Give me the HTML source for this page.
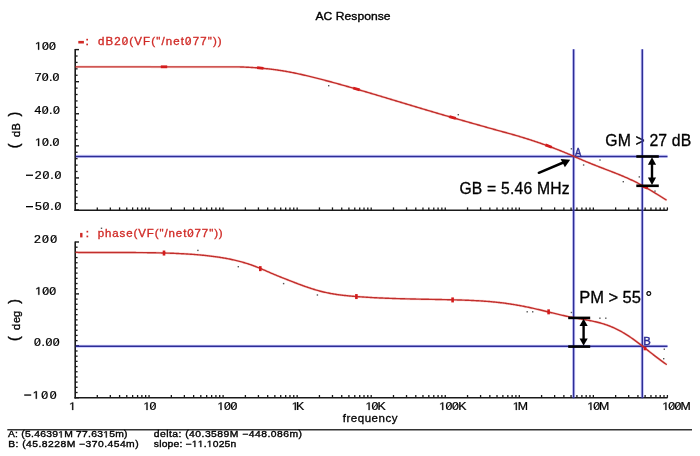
<!DOCTYPE html>
<html><head><meta charset="utf-8"><style>
html,body{margin:0;padding:0;background:#fff;overflow:hidden;}
body{width:700px;height:456px;position:relative;font-family:"Liberation Sans",sans-serif;}
svg{position:absolute;left:0;top:0;display:block;will-change:transform;}
</style></head><body>
<svg width="700" height="456" viewBox="0 0 700 456"><line x1="75.20" y1="49.00" x2="75.20" y2="210.90" stroke="#1a1a1a" stroke-width="1.6" />
<line x1="74.40" y1="210.20" x2="667.50" y2="210.20" stroke="#1a1a1a" stroke-width="1.6" />
<line x1="75.20" y1="49.60" x2="79.00" y2="49.60" stroke="#1a1a1a" stroke-width="1.4" />
<line x1="75.20" y1="81.68" x2="79.00" y2="81.68" stroke="#1a1a1a" stroke-width="1.4" />
<line x1="75.20" y1="113.76" x2="79.00" y2="113.76" stroke="#1a1a1a" stroke-width="1.4" />
<line x1="75.20" y1="145.84" x2="79.00" y2="145.84" stroke="#1a1a1a" stroke-width="1.4" />
<line x1="75.20" y1="177.92" x2="79.00" y2="177.92" stroke="#1a1a1a" stroke-width="1.4" />
<line x1="75.20" y1="209.99" x2="79.00" y2="209.99" stroke="#1a1a1a" stroke-width="1.4" />
<line x1="75.20" y1="56.02" x2="77.60" y2="56.02" stroke="#1a1a1a" stroke-width="1.3" />
<line x1="75.20" y1="62.43" x2="77.60" y2="62.43" stroke="#1a1a1a" stroke-width="1.3" />
<line x1="75.20" y1="68.85" x2="77.60" y2="68.85" stroke="#1a1a1a" stroke-width="1.3" />
<line x1="75.20" y1="75.26" x2="77.60" y2="75.26" stroke="#1a1a1a" stroke-width="1.3" />
<line x1="75.20" y1="88.09" x2="77.60" y2="88.09" stroke="#1a1a1a" stroke-width="1.3" />
<line x1="75.20" y1="94.51" x2="77.60" y2="94.51" stroke="#1a1a1a" stroke-width="1.3" />
<line x1="75.20" y1="100.93" x2="77.60" y2="100.93" stroke="#1a1a1a" stroke-width="1.3" />
<line x1="75.20" y1="107.34" x2="77.60" y2="107.34" stroke="#1a1a1a" stroke-width="1.3" />
<line x1="75.20" y1="120.17" x2="77.60" y2="120.17" stroke="#1a1a1a" stroke-width="1.3" />
<line x1="75.20" y1="126.59" x2="77.60" y2="126.59" stroke="#1a1a1a" stroke-width="1.3" />
<line x1="75.20" y1="133.01" x2="77.60" y2="133.01" stroke="#1a1a1a" stroke-width="1.3" />
<line x1="75.20" y1="139.42" x2="77.60" y2="139.42" stroke="#1a1a1a" stroke-width="1.3" />
<line x1="75.20" y1="152.25" x2="77.60" y2="152.25" stroke="#1a1a1a" stroke-width="1.3" />
<line x1="75.20" y1="158.67" x2="77.60" y2="158.67" stroke="#1a1a1a" stroke-width="1.3" />
<line x1="75.20" y1="165.08" x2="77.60" y2="165.08" stroke="#1a1a1a" stroke-width="1.3" />
<line x1="75.20" y1="171.50" x2="77.60" y2="171.50" stroke="#1a1a1a" stroke-width="1.3" />
<line x1="75.20" y1="184.33" x2="77.60" y2="184.33" stroke="#1a1a1a" stroke-width="1.3" />
<line x1="75.20" y1="190.75" x2="77.60" y2="190.75" stroke="#1a1a1a" stroke-width="1.3" />
<line x1="75.20" y1="197.16" x2="77.60" y2="197.16" stroke="#1a1a1a" stroke-width="1.3" />
<line x1="75.20" y1="203.58" x2="77.60" y2="203.58" stroke="#1a1a1a" stroke-width="1.3" />
<line x1="97.29" y1="210.20" x2="97.29" y2="207.40" stroke="#1a1a1a" stroke-width="1.3" />
<line x1="110.33" y1="210.20" x2="110.33" y2="207.40" stroke="#1a1a1a" stroke-width="1.3" />
<line x1="119.58" y1="210.20" x2="119.58" y2="207.40" stroke="#1a1a1a" stroke-width="1.3" />
<line x1="126.76" y1="210.20" x2="126.76" y2="207.40" stroke="#1a1a1a" stroke-width="1.3" />
<line x1="132.62" y1="210.20" x2="132.62" y2="207.40" stroke="#1a1a1a" stroke-width="1.3" />
<line x1="137.58" y1="210.20" x2="137.58" y2="207.40" stroke="#1a1a1a" stroke-width="1.3" />
<line x1="141.87" y1="210.20" x2="141.87" y2="207.40" stroke="#1a1a1a" stroke-width="1.3" />
<line x1="145.66" y1="210.20" x2="145.66" y2="207.40" stroke="#1a1a1a" stroke-width="1.3" />
<line x1="149.05" y1="210.20" x2="149.05" y2="207.40" stroke="#1a1a1a" stroke-width="1.3" />
<line x1="171.34" y1="210.20" x2="171.34" y2="207.40" stroke="#1a1a1a" stroke-width="1.3" />
<line x1="184.38" y1="210.20" x2="184.38" y2="207.40" stroke="#1a1a1a" stroke-width="1.3" />
<line x1="193.63" y1="210.20" x2="193.63" y2="207.40" stroke="#1a1a1a" stroke-width="1.3" />
<line x1="200.81" y1="210.20" x2="200.81" y2="207.40" stroke="#1a1a1a" stroke-width="1.3" />
<line x1="206.67" y1="210.20" x2="206.67" y2="207.40" stroke="#1a1a1a" stroke-width="1.3" />
<line x1="211.63" y1="210.20" x2="211.63" y2="207.40" stroke="#1a1a1a" stroke-width="1.3" />
<line x1="215.92" y1="210.20" x2="215.92" y2="207.40" stroke="#1a1a1a" stroke-width="1.3" />
<line x1="219.71" y1="210.20" x2="219.71" y2="207.40" stroke="#1a1a1a" stroke-width="1.3" />
<line x1="223.10" y1="210.20" x2="223.10" y2="207.40" stroke="#1a1a1a" stroke-width="1.3" />
<line x1="245.39" y1="210.20" x2="245.39" y2="207.40" stroke="#1a1a1a" stroke-width="1.3" />
<line x1="258.43" y1="210.20" x2="258.43" y2="207.40" stroke="#1a1a1a" stroke-width="1.3" />
<line x1="267.68" y1="210.20" x2="267.68" y2="207.40" stroke="#1a1a1a" stroke-width="1.3" />
<line x1="274.86" y1="210.20" x2="274.86" y2="207.40" stroke="#1a1a1a" stroke-width="1.3" />
<line x1="280.72" y1="210.20" x2="280.72" y2="207.40" stroke="#1a1a1a" stroke-width="1.3" />
<line x1="285.68" y1="210.20" x2="285.68" y2="207.40" stroke="#1a1a1a" stroke-width="1.3" />
<line x1="289.97" y1="210.20" x2="289.97" y2="207.40" stroke="#1a1a1a" stroke-width="1.3" />
<line x1="293.76" y1="210.20" x2="293.76" y2="207.40" stroke="#1a1a1a" stroke-width="1.3" />
<line x1="297.15" y1="210.20" x2="297.15" y2="207.40" stroke="#1a1a1a" stroke-width="1.3" />
<line x1="319.44" y1="210.20" x2="319.44" y2="207.40" stroke="#1a1a1a" stroke-width="1.3" />
<line x1="332.48" y1="210.20" x2="332.48" y2="207.40" stroke="#1a1a1a" stroke-width="1.3" />
<line x1="341.73" y1="210.20" x2="341.73" y2="207.40" stroke="#1a1a1a" stroke-width="1.3" />
<line x1="348.91" y1="210.20" x2="348.91" y2="207.40" stroke="#1a1a1a" stroke-width="1.3" />
<line x1="354.77" y1="210.20" x2="354.77" y2="207.40" stroke="#1a1a1a" stroke-width="1.3" />
<line x1="359.73" y1="210.20" x2="359.73" y2="207.40" stroke="#1a1a1a" stroke-width="1.3" />
<line x1="364.02" y1="210.20" x2="364.02" y2="207.40" stroke="#1a1a1a" stroke-width="1.3" />
<line x1="367.81" y1="210.20" x2="367.81" y2="207.40" stroke="#1a1a1a" stroke-width="1.3" />
<line x1="371.20" y1="210.20" x2="371.20" y2="207.40" stroke="#1a1a1a" stroke-width="1.3" />
<line x1="393.49" y1="210.20" x2="393.49" y2="207.40" stroke="#1a1a1a" stroke-width="1.3" />
<line x1="406.53" y1="210.20" x2="406.53" y2="207.40" stroke="#1a1a1a" stroke-width="1.3" />
<line x1="415.78" y1="210.20" x2="415.78" y2="207.40" stroke="#1a1a1a" stroke-width="1.3" />
<line x1="422.96" y1="210.20" x2="422.96" y2="207.40" stroke="#1a1a1a" stroke-width="1.3" />
<line x1="428.82" y1="210.20" x2="428.82" y2="207.40" stroke="#1a1a1a" stroke-width="1.3" />
<line x1="433.78" y1="210.20" x2="433.78" y2="207.40" stroke="#1a1a1a" stroke-width="1.3" />
<line x1="438.07" y1="210.20" x2="438.07" y2="207.40" stroke="#1a1a1a" stroke-width="1.3" />
<line x1="441.86" y1="210.20" x2="441.86" y2="207.40" stroke="#1a1a1a" stroke-width="1.3" />
<line x1="445.25" y1="210.20" x2="445.25" y2="207.40" stroke="#1a1a1a" stroke-width="1.3" />
<line x1="467.54" y1="210.20" x2="467.54" y2="207.40" stroke="#1a1a1a" stroke-width="1.3" />
<line x1="480.58" y1="210.20" x2="480.58" y2="207.40" stroke="#1a1a1a" stroke-width="1.3" />
<line x1="489.83" y1="210.20" x2="489.83" y2="207.40" stroke="#1a1a1a" stroke-width="1.3" />
<line x1="497.01" y1="210.20" x2="497.01" y2="207.40" stroke="#1a1a1a" stroke-width="1.3" />
<line x1="502.87" y1="210.20" x2="502.87" y2="207.40" stroke="#1a1a1a" stroke-width="1.3" />
<line x1="507.83" y1="210.20" x2="507.83" y2="207.40" stroke="#1a1a1a" stroke-width="1.3" />
<line x1="512.12" y1="210.20" x2="512.12" y2="207.40" stroke="#1a1a1a" stroke-width="1.3" />
<line x1="515.91" y1="210.20" x2="515.91" y2="207.40" stroke="#1a1a1a" stroke-width="1.3" />
<line x1="519.30" y1="210.20" x2="519.30" y2="207.40" stroke="#1a1a1a" stroke-width="1.3" />
<line x1="541.59" y1="210.20" x2="541.59" y2="207.40" stroke="#1a1a1a" stroke-width="1.3" />
<line x1="554.63" y1="210.20" x2="554.63" y2="207.40" stroke="#1a1a1a" stroke-width="1.3" />
<line x1="563.88" y1="210.20" x2="563.88" y2="207.40" stroke="#1a1a1a" stroke-width="1.3" />
<line x1="571.06" y1="210.20" x2="571.06" y2="207.40" stroke="#1a1a1a" stroke-width="1.3" />
<line x1="576.92" y1="210.20" x2="576.92" y2="207.40" stroke="#1a1a1a" stroke-width="1.3" />
<line x1="581.88" y1="210.20" x2="581.88" y2="207.40" stroke="#1a1a1a" stroke-width="1.3" />
<line x1="586.17" y1="210.20" x2="586.17" y2="207.40" stroke="#1a1a1a" stroke-width="1.3" />
<line x1="589.96" y1="210.20" x2="589.96" y2="207.40" stroke="#1a1a1a" stroke-width="1.3" />
<line x1="593.35" y1="210.20" x2="593.35" y2="207.40" stroke="#1a1a1a" stroke-width="1.3" />
<line x1="615.64" y1="210.20" x2="615.64" y2="207.40" stroke="#1a1a1a" stroke-width="1.3" />
<line x1="628.68" y1="210.20" x2="628.68" y2="207.40" stroke="#1a1a1a" stroke-width="1.3" />
<line x1="637.93" y1="210.20" x2="637.93" y2="207.40" stroke="#1a1a1a" stroke-width="1.3" />
<line x1="645.11" y1="210.20" x2="645.11" y2="207.40" stroke="#1a1a1a" stroke-width="1.3" />
<line x1="650.97" y1="210.20" x2="650.97" y2="207.40" stroke="#1a1a1a" stroke-width="1.3" />
<line x1="655.93" y1="210.20" x2="655.93" y2="207.40" stroke="#1a1a1a" stroke-width="1.3" />
<line x1="660.22" y1="210.20" x2="660.22" y2="207.40" stroke="#1a1a1a" stroke-width="1.3" />
<line x1="664.01" y1="210.20" x2="664.01" y2="207.40" stroke="#1a1a1a" stroke-width="1.3" />
<line x1="667.40" y1="210.20" x2="667.40" y2="207.40" stroke="#1a1a1a" stroke-width="1.3" />
<line x1="75.20" y1="241.40" x2="75.20" y2="398.50" stroke="#1a1a1a" stroke-width="1.6" />
<line x1="74.40" y1="397.80" x2="667.50" y2="397.80" stroke="#1a1a1a" stroke-width="1.6" />
<line x1="75.20" y1="242.00" x2="79.00" y2="242.00" stroke="#1a1a1a" stroke-width="1.4" />
<line x1="75.20" y1="293.90" x2="79.00" y2="293.90" stroke="#1a1a1a" stroke-width="1.4" />
<line x1="75.20" y1="345.80" x2="79.00" y2="345.80" stroke="#1a1a1a" stroke-width="1.4" />
<line x1="75.20" y1="397.70" x2="79.00" y2="397.70" stroke="#1a1a1a" stroke-width="1.4" />
<line x1="75.20" y1="247.19" x2="77.60" y2="247.19" stroke="#1a1a1a" stroke-width="1.3" />
<line x1="75.20" y1="252.38" x2="77.60" y2="252.38" stroke="#1a1a1a" stroke-width="1.3" />
<line x1="75.20" y1="257.57" x2="77.60" y2="257.57" stroke="#1a1a1a" stroke-width="1.3" />
<line x1="75.20" y1="262.76" x2="77.60" y2="262.76" stroke="#1a1a1a" stroke-width="1.3" />
<line x1="75.20" y1="267.95" x2="77.60" y2="267.95" stroke="#1a1a1a" stroke-width="1.3" />
<line x1="75.20" y1="273.14" x2="77.60" y2="273.14" stroke="#1a1a1a" stroke-width="1.3" />
<line x1="75.20" y1="278.33" x2="77.60" y2="278.33" stroke="#1a1a1a" stroke-width="1.3" />
<line x1="75.20" y1="283.52" x2="77.60" y2="283.52" stroke="#1a1a1a" stroke-width="1.3" />
<line x1="75.20" y1="288.71" x2="77.60" y2="288.71" stroke="#1a1a1a" stroke-width="1.3" />
<line x1="75.20" y1="299.09" x2="77.60" y2="299.09" stroke="#1a1a1a" stroke-width="1.3" />
<line x1="75.20" y1="304.28" x2="77.60" y2="304.28" stroke="#1a1a1a" stroke-width="1.3" />
<line x1="75.20" y1="309.47" x2="77.60" y2="309.47" stroke="#1a1a1a" stroke-width="1.3" />
<line x1="75.20" y1="314.66" x2="77.60" y2="314.66" stroke="#1a1a1a" stroke-width="1.3" />
<line x1="75.20" y1="319.85" x2="77.60" y2="319.85" stroke="#1a1a1a" stroke-width="1.3" />
<line x1="75.20" y1="325.04" x2="77.60" y2="325.04" stroke="#1a1a1a" stroke-width="1.3" />
<line x1="75.20" y1="330.23" x2="77.60" y2="330.23" stroke="#1a1a1a" stroke-width="1.3" />
<line x1="75.20" y1="335.42" x2="77.60" y2="335.42" stroke="#1a1a1a" stroke-width="1.3" />
<line x1="75.20" y1="340.61" x2="77.60" y2="340.61" stroke="#1a1a1a" stroke-width="1.3" />
<line x1="75.20" y1="350.99" x2="77.60" y2="350.99" stroke="#1a1a1a" stroke-width="1.3" />
<line x1="75.20" y1="356.18" x2="77.60" y2="356.18" stroke="#1a1a1a" stroke-width="1.3" />
<line x1="75.20" y1="361.37" x2="77.60" y2="361.37" stroke="#1a1a1a" stroke-width="1.3" />
<line x1="75.20" y1="366.56" x2="77.60" y2="366.56" stroke="#1a1a1a" stroke-width="1.3" />
<line x1="75.20" y1="371.75" x2="77.60" y2="371.75" stroke="#1a1a1a" stroke-width="1.3" />
<line x1="75.20" y1="376.94" x2="77.60" y2="376.94" stroke="#1a1a1a" stroke-width="1.3" />
<line x1="75.20" y1="382.13" x2="77.60" y2="382.13" stroke="#1a1a1a" stroke-width="1.3" />
<line x1="75.20" y1="387.32" x2="77.60" y2="387.32" stroke="#1a1a1a" stroke-width="1.3" />
<line x1="75.20" y1="392.51" x2="77.60" y2="392.51" stroke="#1a1a1a" stroke-width="1.3" />
<line x1="97.29" y1="397.80" x2="97.29" y2="395.00" stroke="#1a1a1a" stroke-width="1.3" />
<line x1="110.33" y1="397.80" x2="110.33" y2="395.00" stroke="#1a1a1a" stroke-width="1.3" />
<line x1="119.58" y1="397.80" x2="119.58" y2="395.00" stroke="#1a1a1a" stroke-width="1.3" />
<line x1="126.76" y1="397.80" x2="126.76" y2="395.00" stroke="#1a1a1a" stroke-width="1.3" />
<line x1="132.62" y1="397.80" x2="132.62" y2="395.00" stroke="#1a1a1a" stroke-width="1.3" />
<line x1="137.58" y1="397.80" x2="137.58" y2="395.00" stroke="#1a1a1a" stroke-width="1.3" />
<line x1="141.87" y1="397.80" x2="141.87" y2="395.00" stroke="#1a1a1a" stroke-width="1.3" />
<line x1="145.66" y1="397.80" x2="145.66" y2="395.00" stroke="#1a1a1a" stroke-width="1.3" />
<line x1="149.05" y1="397.80" x2="149.05" y2="395.00" stroke="#1a1a1a" stroke-width="1.3" />
<line x1="171.34" y1="397.80" x2="171.34" y2="395.00" stroke="#1a1a1a" stroke-width="1.3" />
<line x1="184.38" y1="397.80" x2="184.38" y2="395.00" stroke="#1a1a1a" stroke-width="1.3" />
<line x1="193.63" y1="397.80" x2="193.63" y2="395.00" stroke="#1a1a1a" stroke-width="1.3" />
<line x1="200.81" y1="397.80" x2="200.81" y2="395.00" stroke="#1a1a1a" stroke-width="1.3" />
<line x1="206.67" y1="397.80" x2="206.67" y2="395.00" stroke="#1a1a1a" stroke-width="1.3" />
<line x1="211.63" y1="397.80" x2="211.63" y2="395.00" stroke="#1a1a1a" stroke-width="1.3" />
<line x1="215.92" y1="397.80" x2="215.92" y2="395.00" stroke="#1a1a1a" stroke-width="1.3" />
<line x1="219.71" y1="397.80" x2="219.71" y2="395.00" stroke="#1a1a1a" stroke-width="1.3" />
<line x1="223.10" y1="397.80" x2="223.10" y2="395.00" stroke="#1a1a1a" stroke-width="1.3" />
<line x1="245.39" y1="397.80" x2="245.39" y2="395.00" stroke="#1a1a1a" stroke-width="1.3" />
<line x1="258.43" y1="397.80" x2="258.43" y2="395.00" stroke="#1a1a1a" stroke-width="1.3" />
<line x1="267.68" y1="397.80" x2="267.68" y2="395.00" stroke="#1a1a1a" stroke-width="1.3" />
<line x1="274.86" y1="397.80" x2="274.86" y2="395.00" stroke="#1a1a1a" stroke-width="1.3" />
<line x1="280.72" y1="397.80" x2="280.72" y2="395.00" stroke="#1a1a1a" stroke-width="1.3" />
<line x1="285.68" y1="397.80" x2="285.68" y2="395.00" stroke="#1a1a1a" stroke-width="1.3" />
<line x1="289.97" y1="397.80" x2="289.97" y2="395.00" stroke="#1a1a1a" stroke-width="1.3" />
<line x1="293.76" y1="397.80" x2="293.76" y2="395.00" stroke="#1a1a1a" stroke-width="1.3" />
<line x1="297.15" y1="397.80" x2="297.15" y2="395.00" stroke="#1a1a1a" stroke-width="1.3" />
<line x1="319.44" y1="397.80" x2="319.44" y2="395.00" stroke="#1a1a1a" stroke-width="1.3" />
<line x1="332.48" y1="397.80" x2="332.48" y2="395.00" stroke="#1a1a1a" stroke-width="1.3" />
<line x1="341.73" y1="397.80" x2="341.73" y2="395.00" stroke="#1a1a1a" stroke-width="1.3" />
<line x1="348.91" y1="397.80" x2="348.91" y2="395.00" stroke="#1a1a1a" stroke-width="1.3" />
<line x1="354.77" y1="397.80" x2="354.77" y2="395.00" stroke="#1a1a1a" stroke-width="1.3" />
<line x1="359.73" y1="397.80" x2="359.73" y2="395.00" stroke="#1a1a1a" stroke-width="1.3" />
<line x1="364.02" y1="397.80" x2="364.02" y2="395.00" stroke="#1a1a1a" stroke-width="1.3" />
<line x1="367.81" y1="397.80" x2="367.81" y2="395.00" stroke="#1a1a1a" stroke-width="1.3" />
<line x1="371.20" y1="397.80" x2="371.20" y2="395.00" stroke="#1a1a1a" stroke-width="1.3" />
<line x1="393.49" y1="397.80" x2="393.49" y2="395.00" stroke="#1a1a1a" stroke-width="1.3" />
<line x1="406.53" y1="397.80" x2="406.53" y2="395.00" stroke="#1a1a1a" stroke-width="1.3" />
<line x1="415.78" y1="397.80" x2="415.78" y2="395.00" stroke="#1a1a1a" stroke-width="1.3" />
<line x1="422.96" y1="397.80" x2="422.96" y2="395.00" stroke="#1a1a1a" stroke-width="1.3" />
<line x1="428.82" y1="397.80" x2="428.82" y2="395.00" stroke="#1a1a1a" stroke-width="1.3" />
<line x1="433.78" y1="397.80" x2="433.78" y2="395.00" stroke="#1a1a1a" stroke-width="1.3" />
<line x1="438.07" y1="397.80" x2="438.07" y2="395.00" stroke="#1a1a1a" stroke-width="1.3" />
<line x1="441.86" y1="397.80" x2="441.86" y2="395.00" stroke="#1a1a1a" stroke-width="1.3" />
<line x1="445.25" y1="397.80" x2="445.25" y2="395.00" stroke="#1a1a1a" stroke-width="1.3" />
<line x1="467.54" y1="397.80" x2="467.54" y2="395.00" stroke="#1a1a1a" stroke-width="1.3" />
<line x1="480.58" y1="397.80" x2="480.58" y2="395.00" stroke="#1a1a1a" stroke-width="1.3" />
<line x1="489.83" y1="397.80" x2="489.83" y2="395.00" stroke="#1a1a1a" stroke-width="1.3" />
<line x1="497.01" y1="397.80" x2="497.01" y2="395.00" stroke="#1a1a1a" stroke-width="1.3" />
<line x1="502.87" y1="397.80" x2="502.87" y2="395.00" stroke="#1a1a1a" stroke-width="1.3" />
<line x1="507.83" y1="397.80" x2="507.83" y2="395.00" stroke="#1a1a1a" stroke-width="1.3" />
<line x1="512.12" y1="397.80" x2="512.12" y2="395.00" stroke="#1a1a1a" stroke-width="1.3" />
<line x1="515.91" y1="397.80" x2="515.91" y2="395.00" stroke="#1a1a1a" stroke-width="1.3" />
<line x1="519.30" y1="397.80" x2="519.30" y2="395.00" stroke="#1a1a1a" stroke-width="1.3" />
<line x1="541.59" y1="397.80" x2="541.59" y2="395.00" stroke="#1a1a1a" stroke-width="1.3" />
<line x1="554.63" y1="397.80" x2="554.63" y2="395.00" stroke="#1a1a1a" stroke-width="1.3" />
<line x1="563.88" y1="397.80" x2="563.88" y2="395.00" stroke="#1a1a1a" stroke-width="1.3" />
<line x1="571.06" y1="397.80" x2="571.06" y2="395.00" stroke="#1a1a1a" stroke-width="1.3" />
<line x1="576.92" y1="397.80" x2="576.92" y2="395.00" stroke="#1a1a1a" stroke-width="1.3" />
<line x1="581.88" y1="397.80" x2="581.88" y2="395.00" stroke="#1a1a1a" stroke-width="1.3" />
<line x1="586.17" y1="397.80" x2="586.17" y2="395.00" stroke="#1a1a1a" stroke-width="1.3" />
<line x1="589.96" y1="397.80" x2="589.96" y2="395.00" stroke="#1a1a1a" stroke-width="1.3" />
<line x1="593.35" y1="397.80" x2="593.35" y2="395.00" stroke="#1a1a1a" stroke-width="1.3" />
<line x1="615.64" y1="397.80" x2="615.64" y2="395.00" stroke="#1a1a1a" stroke-width="1.3" />
<line x1="628.68" y1="397.80" x2="628.68" y2="395.00" stroke="#1a1a1a" stroke-width="1.3" />
<line x1="637.93" y1="397.80" x2="637.93" y2="395.00" stroke="#1a1a1a" stroke-width="1.3" />
<line x1="645.11" y1="397.80" x2="645.11" y2="395.00" stroke="#1a1a1a" stroke-width="1.3" />
<line x1="650.97" y1="397.80" x2="650.97" y2="395.00" stroke="#1a1a1a" stroke-width="1.3" />
<line x1="655.93" y1="397.80" x2="655.93" y2="395.00" stroke="#1a1a1a" stroke-width="1.3" />
<line x1="660.22" y1="397.80" x2="660.22" y2="395.00" stroke="#1a1a1a" stroke-width="1.3" />
<line x1="664.01" y1="397.80" x2="664.01" y2="395.00" stroke="#1a1a1a" stroke-width="1.3" />
<line x1="667.40" y1="397.80" x2="667.40" y2="395.00" stroke="#1a1a1a" stroke-width="1.3" />
<text x="605.31 617.73 631.02 635.54 644.90 649.42 658.34 667.26 671.78 680.69" y="146.4" font-family="Liberation Sans" font-size="15.8" fill="#000" stroke="#000" stroke-width="0.3" xml:space="preserve">GM &gt; 27 dB</text>
<text x="459.41 471.82 482.50 487.06 496.43 500.99 509.92 514.49 523.42 532.35 536.91 550.19 561.73" y="193.6" font-family="Liberation Sans" font-size="15.7" fill="#000" stroke="#000" stroke-width="0.3" xml:space="preserve">GB = 5.46 MHz</text>
<text x="579.35 590.30 603.99 608.51 618.09 622.62 631.74 640.86 645.39" y="302.7" font-family="Liberation Sans" font-size="16.5" fill="#000" stroke="#000" stroke-width="0.3" xml:space="preserve">PM &gt; 55 °</text>
<line x1="573.60" y1="49.20" x2="573.60" y2="398.20" stroke="rgba(110,110,255,0.30)" stroke-width="3.2" />
<line x1="642.30" y1="49.20" x2="642.30" y2="398.20" stroke="rgba(110,110,255,0.30)" stroke-width="3.2" />
<line x1="75.80" y1="156.40" x2="667.50" y2="156.40" stroke="rgba(110,110,255,0.30)" stroke-width="3.2" />
<line x1="75.80" y1="346.30" x2="667.50" y2="346.30" stroke="rgba(110,110,255,0.30)" stroke-width="3.2" />
<line x1="573.60" y1="49.20" x2="573.60" y2="398.20" stroke="#2d2d96" stroke-width="1.5" />
<line x1="642.30" y1="49.20" x2="642.30" y2="398.20" stroke="#2d2d96" stroke-width="1.5" />
<line x1="75.80" y1="156.40" x2="667.50" y2="156.40" stroke="#2d2d96" stroke-width="1.5" />
<line x1="75.80" y1="346.30" x2="667.50" y2="346.30" stroke="#2d2d96" stroke-width="1.5" />
<path d="M75.50,66.83 L76.50,66.83 L77.50,66.83 L78.50,66.83 L79.50,66.83 L80.50,66.83 L81.50,66.83 L82.50,66.83 L83.50,66.83 L84.50,66.83 L85.50,66.83 L86.50,66.83 L87.50,66.83 L88.50,66.83 L89.50,66.83 L90.50,66.83 L91.50,66.83 L92.50,66.83 L93.50,66.83 L94.50,66.83 L95.50,66.83 L96.50,66.83 L97.50,66.83 L98.50,66.83 L99.50,66.83 L100.50,66.83 L101.50,66.83 L102.50,66.83 L103.50,66.83 L104.50,66.83 L105.50,66.83 L106.50,66.83 L107.50,66.83 L108.50,66.83 L109.50,66.83 L110.50,66.83 L111.50,66.83 L112.50,66.83 L113.50,66.83 L114.50,66.83 L115.50,66.83 L116.50,66.83 L117.50,66.83 L118.50,66.83 L119.50,66.83 L120.50,66.83 L121.50,66.83 L122.50,66.83 L123.50,66.83 L124.50,66.83 L125.50,66.83 L126.50,66.83 L127.50,66.83 L128.50,66.83 L129.50,66.83 L130.50,66.83 L131.50,66.83 L132.50,66.83 L133.50,66.83 L134.50,66.83 L135.50,66.83 L136.50,66.83 L137.50,66.83 L138.50,66.83 L139.50,66.84 L140.50,66.84 L141.50,66.84 L142.50,66.85 L143.50,66.85 L144.50,66.85 L145.50,66.86 L146.50,66.86 L147.50,66.86 L148.50,66.87 L149.50,66.87 L150.50,66.87 L151.50,66.88 L152.50,66.88 L153.50,66.88 L154.50,66.88 L155.50,66.89 L156.50,66.89 L157.50,66.89 L158.50,66.89 L159.50,66.89 L160.50,66.90 L161.50,66.90 L162.50,66.90 L163.50,66.90 L164.50,66.90 L165.50,66.90 L166.50,66.90 L167.50,66.90 L168.50,66.90 L169.50,66.90 L170.50,66.90 L171.50,66.90 L172.50,66.90 L173.50,66.90 L174.50,66.90 L175.50,66.90 L176.50,66.90 L177.50,66.90 L178.50,66.90 L179.50,66.90 L180.50,66.90 L181.50,66.90 L182.50,66.90 L183.50,66.90 L184.50,66.90 L185.50,66.90 L186.50,66.90 L187.50,66.90 L188.50,66.90 L189.50,66.90 L190.50,66.90 L191.50,66.90 L192.50,66.90 L193.50,66.90 L194.50,66.90 L195.50,66.90 L196.50,66.90 L197.50,66.90 L198.50,66.90 L199.50,66.90 L200.50,66.90 L201.50,66.90 L202.50,66.90 L203.50,66.90 L204.50,66.90 L205.50,66.90 L206.50,66.90 L207.50,66.90 L208.50,66.90 L209.50,66.90 L210.50,66.90 L211.50,66.90 L212.50,66.90 L213.50,66.90 L214.50,66.90 L215.50,66.90 L216.50,66.90 L217.50,66.90 L218.50,66.90 L219.50,66.90 L220.50,66.90 L221.50,66.90 L222.50,66.90 L223.50,66.90 L224.50,66.90 L225.50,66.90 L226.50,66.90 L227.50,66.90 L228.50,66.90 L229.50,66.90 L230.50,66.90 L231.50,66.90 L232.50,66.90 L233.50,66.90 L234.50,66.90 L235.50,66.90 L236.50,66.90 L237.50,66.90 L238.50,66.90 L239.50,66.92 L240.50,66.95 L241.50,66.99 L242.50,67.02 L243.50,67.06 L244.50,67.11 L245.50,67.15 L246.50,67.20 L247.50,67.24 L248.50,67.30 L249.50,67.35 L250.50,67.41 L251.50,67.46 L252.50,67.53 L253.50,67.59 L254.50,67.66 L255.50,67.73 L256.50,67.80 L257.50,67.88 L258.50,67.95 L259.50,68.03 L260.50,68.12 L261.50,68.21 L262.50,68.30 L263.50,68.39 L264.50,68.49 L265.50,68.59 L266.50,68.69 L267.50,68.80 L268.50,68.90 L269.50,69.02 L270.50,69.13 L271.50,69.25 L272.50,69.38 L273.50,69.50 L274.50,69.63 L275.50,69.77 L276.50,69.90 L277.50,70.04 L278.50,70.19 L279.50,70.34 L280.50,70.49 L281.50,70.64 L282.50,70.80 L283.50,70.97 L284.50,71.13 L285.50,71.31 L286.50,71.48 L287.50,71.66 L288.50,71.84 L289.50,72.03 L290.50,72.22 L291.50,72.41 L292.50,72.61 L293.50,72.81 L294.50,73.01 L295.50,73.22 L296.50,73.43 L297.50,73.64 L298.50,73.86 L299.50,74.07 L300.50,74.29 L301.50,74.52 L302.50,74.74 L303.50,74.97 L304.50,75.20 L305.50,75.44 L306.50,75.67 L307.50,75.91 L308.50,76.15 L309.50,76.39 L310.50,76.63 L311.50,76.88 L312.50,77.12 L313.50,77.37 L314.50,77.62 L315.50,77.87 L316.50,78.12 L317.50,78.38 L318.50,78.63 L319.50,78.89 L320.50,79.14 L321.50,79.40 L322.50,79.66 L323.50,79.92 L324.50,80.18 L325.50,80.45 L326.50,80.71 L327.50,80.98 L328.50,81.24 L329.50,81.51 L330.50,81.78 L331.50,82.05 L332.50,82.32 L333.50,82.59 L334.50,82.87 L335.50,83.14 L336.50,83.41 L337.50,83.69 L338.50,83.97 L339.50,84.24 L340.50,84.52 L341.50,84.80 L342.50,85.08 L343.50,85.36 L344.50,85.65 L345.50,85.93 L346.50,86.21 L347.50,86.50 L348.50,86.78 L349.50,87.07 L350.50,87.35 L351.50,87.64 L352.50,87.93 L353.50,88.22 L354.50,88.51 L355.50,88.80 L356.50,89.09 L357.50,89.38 L358.50,89.67 L359.50,89.96 L360.50,90.26 L361.50,90.55 L362.50,90.84 L363.50,91.14 L364.50,91.43 L365.50,91.73 L366.50,92.02 L367.50,92.32 L368.50,92.62 L369.50,92.91 L370.50,93.21 L371.50,93.51 L372.50,93.81 L373.50,94.10 L374.50,94.40 L375.50,94.70 L376.50,95.00 L377.50,95.30 L378.50,95.60 L379.50,95.90 L380.50,96.20 L381.50,96.50 L382.50,96.80 L383.50,97.10 L384.50,97.40 L385.50,97.70 L386.50,98.00 L387.50,98.30 L388.50,98.61 L389.50,98.91 L390.50,99.21 L391.50,99.51 L392.50,99.81 L393.50,100.11 L394.50,100.41 L395.50,100.71 L396.50,101.02 L397.50,101.32 L398.50,101.62 L399.50,101.92 L400.50,102.22 L401.50,102.52 L402.50,102.82 L403.50,103.13 L404.50,103.43 L405.50,103.73 L406.50,104.03 L407.50,104.33 L408.50,104.63 L409.50,104.93 L410.50,105.23 L411.50,105.53 L412.50,105.83 L413.50,106.13 L414.50,106.43 L415.50,106.73 L416.50,107.03 L417.50,107.33 L418.50,107.63 L419.50,107.93 L420.50,108.23 L421.50,108.53 L422.50,108.83 L423.50,109.12 L424.50,109.42 L425.50,109.72 L426.50,110.02 L427.50,110.31 L428.50,110.61 L429.50,110.91 L430.50,111.20 L431.50,111.50 L432.50,111.79 L433.50,112.09 L434.50,112.38 L435.50,112.68 L436.50,112.97 L437.50,113.26 L438.50,113.55 L439.50,113.85 L440.50,114.14 L441.50,114.43 L442.50,114.72 L443.50,115.01 L444.50,115.30 L445.50,115.59 L446.50,115.88 L447.50,116.17 L448.50,116.46 L449.50,116.75 L450.50,117.03 L451.50,117.32 L452.50,117.61 L453.50,117.90 L454.50,118.18 L455.50,118.47 L456.50,118.76 L457.50,119.04 L458.50,119.33 L459.50,119.61 L460.50,119.90 L461.50,120.18 L462.50,120.47 L463.50,120.75 L464.50,121.04 L465.50,121.32 L466.50,121.60 L467.50,121.89 L468.50,122.17 L469.50,122.46 L470.50,122.74 L471.50,123.02 L472.50,123.31 L473.50,123.59 L474.50,123.87 L475.50,124.16 L476.50,124.44 L477.50,124.72 L478.50,125.00 L479.50,125.29 L480.50,125.57 L481.50,125.85 L482.50,126.14 L483.50,126.42 L484.50,126.70 L485.50,126.98 L486.50,127.27 L487.50,127.55 L488.50,127.83 L489.50,128.11 L490.50,128.39 L491.50,128.67 L492.50,128.95 L493.50,129.23 L494.50,129.51 L495.50,129.79 L496.50,130.06 L497.50,130.34 L498.50,130.61 L499.50,130.89 L500.50,131.16 L501.50,131.43 L502.50,131.70 L503.50,131.98 L504.50,132.25 L505.50,132.52 L506.50,132.79 L507.50,133.06 L508.50,133.34 L509.50,133.62 L510.50,133.89 L511.50,134.18 L512.50,134.46 L513.50,134.74 L514.50,135.03 L515.50,135.32 L516.50,135.61 L517.50,135.90 L518.50,136.20 L519.50,136.50 L520.50,136.80 L521.50,137.10 L522.50,137.40 L523.50,137.71 L524.50,138.02 L525.50,138.33 L526.50,138.64 L527.50,138.96 L528.50,139.28 L529.50,139.60 L530.50,139.92 L531.50,140.25 L532.50,140.57 L533.50,140.90 L534.50,141.24 L535.50,141.57 L536.50,141.91 L537.50,142.25 L538.50,142.59 L539.50,142.93 L540.50,143.28 L541.50,143.63 L542.50,143.98 L543.50,144.34 L544.50,144.69 L545.50,145.05 L546.50,145.41 L547.50,145.78 L548.50,146.15 L549.50,146.52 L550.50,146.89 L551.50,147.26 L552.50,147.64 L553.50,148.02 L554.50,148.40 L555.50,148.79 L556.50,149.18 L557.50,149.57 L558.50,149.96 L559.50,150.36 L560.50,150.75 L561.50,151.16 L562.50,151.56 L563.50,151.97 L564.50,152.38 L565.50,152.79 L566.50,153.20 L567.50,153.62 L568.50,154.04 L569.50,154.47 L570.50,154.89 L571.50,155.32 L572.50,155.75 L573.50,156.18 L574.50,156.62 L575.50,157.05 L576.50,157.49 L577.50,157.93 L578.50,158.36 L579.50,158.80 L580.50,159.23 L581.50,159.66 L582.50,160.09 L583.50,160.52 L584.50,160.94 L585.50,161.36 L586.50,161.78 L587.50,162.20 L588.50,162.61 L589.50,163.02 L590.50,163.42 L591.50,163.83 L592.50,164.23 L593.50,164.63 L594.50,165.02 L595.50,165.42 L596.50,165.81 L597.50,166.20 L598.50,166.59 L599.50,166.98 L600.50,167.37 L601.50,167.75 L602.50,168.14 L603.50,168.52 L604.50,168.90 L605.50,169.29 L606.50,169.67 L607.50,170.05 L608.50,170.44 L609.50,170.82 L610.50,171.21 L611.50,171.59 L612.50,171.98 L613.50,172.37 L614.50,172.76 L615.50,173.16 L616.50,173.55 L617.50,173.95 L618.50,174.35 L619.50,174.76 L620.50,175.17 L621.50,175.58 L622.50,176.00 L623.50,176.42 L624.50,176.85 L625.50,177.28 L626.50,177.72 L627.50,178.17 L628.50,178.62 L629.50,179.07 L630.50,179.53 L631.50,180.00 L632.50,180.48 L633.50,180.96 L634.50,181.45 L635.50,181.95 L636.50,182.46 L637.50,182.98 L638.50,183.50 L639.50,184.03 L640.50,184.56 L641.50,185.11 L642.50,185.66 L643.50,186.21 L644.50,186.77 L645.50,187.34 L646.50,187.92 L647.50,188.49 L648.50,189.08 L649.50,189.66 L650.50,190.26 L651.50,190.85 L652.50,191.45 L653.50,192.06 L654.50,192.67 L655.50,193.28 L656.50,193.89 L657.50,194.51 L658.50,195.13 L659.50,195.75 L660.50,196.37 L661.50,197.00 L662.50,197.62 L663.50,198.25 L664.50,198.88 L665.50,199.51 L666.50,200.14 L666.60,200.20" fill="none" stroke="rgba(235,75,60,0.22)" stroke-width="2.5" stroke-linejoin="round"/>
<path d="M75.50,66.83 L76.50,66.83 L77.50,66.83 L78.50,66.83 L79.50,66.83 L80.50,66.83 L81.50,66.83 L82.50,66.83 L83.50,66.83 L84.50,66.83 L85.50,66.83 L86.50,66.83 L87.50,66.83 L88.50,66.83 L89.50,66.83 L90.50,66.83 L91.50,66.83 L92.50,66.83 L93.50,66.83 L94.50,66.83 L95.50,66.83 L96.50,66.83 L97.50,66.83 L98.50,66.83 L99.50,66.83 L100.50,66.83 L101.50,66.83 L102.50,66.83 L103.50,66.83 L104.50,66.83 L105.50,66.83 L106.50,66.83 L107.50,66.83 L108.50,66.83 L109.50,66.83 L110.50,66.83 L111.50,66.83 L112.50,66.83 L113.50,66.83 L114.50,66.83 L115.50,66.83 L116.50,66.83 L117.50,66.83 L118.50,66.83 L119.50,66.83 L120.50,66.83 L121.50,66.83 L122.50,66.83 L123.50,66.83 L124.50,66.83 L125.50,66.83 L126.50,66.83 L127.50,66.83 L128.50,66.83 L129.50,66.83 L130.50,66.83 L131.50,66.83 L132.50,66.83 L133.50,66.83 L134.50,66.83 L135.50,66.83 L136.50,66.83 L137.50,66.83 L138.50,66.83 L139.50,66.84 L140.50,66.84 L141.50,66.84 L142.50,66.85 L143.50,66.85 L144.50,66.85 L145.50,66.86 L146.50,66.86 L147.50,66.86 L148.50,66.87 L149.50,66.87 L150.50,66.87 L151.50,66.88 L152.50,66.88 L153.50,66.88 L154.50,66.88 L155.50,66.89 L156.50,66.89 L157.50,66.89 L158.50,66.89 L159.50,66.89 L160.50,66.90 L161.50,66.90 L162.50,66.90 L163.50,66.90 L164.50,66.90 L165.50,66.90 L166.50,66.90 L167.50,66.90 L168.50,66.90 L169.50,66.90 L170.50,66.90 L171.50,66.90 L172.50,66.90 L173.50,66.90 L174.50,66.90 L175.50,66.90 L176.50,66.90 L177.50,66.90 L178.50,66.90 L179.50,66.90 L180.50,66.90 L181.50,66.90 L182.50,66.90 L183.50,66.90 L184.50,66.90 L185.50,66.90 L186.50,66.90 L187.50,66.90 L188.50,66.90 L189.50,66.90 L190.50,66.90 L191.50,66.90 L192.50,66.90 L193.50,66.90 L194.50,66.90 L195.50,66.90 L196.50,66.90 L197.50,66.90 L198.50,66.90 L199.50,66.90 L200.50,66.90 L201.50,66.90 L202.50,66.90 L203.50,66.90 L204.50,66.90 L205.50,66.90 L206.50,66.90 L207.50,66.90 L208.50,66.90 L209.50,66.90 L210.50,66.90 L211.50,66.90 L212.50,66.90 L213.50,66.90 L214.50,66.90 L215.50,66.90 L216.50,66.90 L217.50,66.90 L218.50,66.90 L219.50,66.90 L220.50,66.90 L221.50,66.90 L222.50,66.90 L223.50,66.90 L224.50,66.90 L225.50,66.90 L226.50,66.90 L227.50,66.90 L228.50,66.90 L229.50,66.90 L230.50,66.90 L231.50,66.90 L232.50,66.90 L233.50,66.90 L234.50,66.90 L235.50,66.90 L236.50,66.90 L237.50,66.90 L238.50,66.90 L239.50,66.92 L240.50,66.95 L241.50,66.99 L242.50,67.02 L243.50,67.06 L244.50,67.11 L245.50,67.15 L246.50,67.20 L247.50,67.24 L248.50,67.30 L249.50,67.35 L250.50,67.41 L251.50,67.46 L252.50,67.53 L253.50,67.59 L254.50,67.66 L255.50,67.73 L256.50,67.80 L257.50,67.88 L258.50,67.95 L259.50,68.03 L260.50,68.12 L261.50,68.21 L262.50,68.30 L263.50,68.39 L264.50,68.49 L265.50,68.59 L266.50,68.69 L267.50,68.80 L268.50,68.90 L269.50,69.02 L270.50,69.13 L271.50,69.25 L272.50,69.38 L273.50,69.50 L274.50,69.63 L275.50,69.77 L276.50,69.90 L277.50,70.04 L278.50,70.19 L279.50,70.34 L280.50,70.49 L281.50,70.64 L282.50,70.80 L283.50,70.97 L284.50,71.13 L285.50,71.31 L286.50,71.48 L287.50,71.66 L288.50,71.84 L289.50,72.03 L290.50,72.22 L291.50,72.41 L292.50,72.61 L293.50,72.81 L294.50,73.01 L295.50,73.22 L296.50,73.43 L297.50,73.64 L298.50,73.86 L299.50,74.07 L300.50,74.29 L301.50,74.52 L302.50,74.74 L303.50,74.97 L304.50,75.20 L305.50,75.44 L306.50,75.67 L307.50,75.91 L308.50,76.15 L309.50,76.39 L310.50,76.63 L311.50,76.88 L312.50,77.12 L313.50,77.37 L314.50,77.62 L315.50,77.87 L316.50,78.12 L317.50,78.38 L318.50,78.63 L319.50,78.89 L320.50,79.14 L321.50,79.40 L322.50,79.66 L323.50,79.92 L324.50,80.18 L325.50,80.45 L326.50,80.71 L327.50,80.98 L328.50,81.24 L329.50,81.51 L330.50,81.78 L331.50,82.05 L332.50,82.32 L333.50,82.59 L334.50,82.87 L335.50,83.14 L336.50,83.41 L337.50,83.69 L338.50,83.97 L339.50,84.24 L340.50,84.52 L341.50,84.80 L342.50,85.08 L343.50,85.36 L344.50,85.65 L345.50,85.93 L346.50,86.21 L347.50,86.50 L348.50,86.78 L349.50,87.07 L350.50,87.35 L351.50,87.64 L352.50,87.93 L353.50,88.22 L354.50,88.51 L355.50,88.80 L356.50,89.09 L357.50,89.38 L358.50,89.67 L359.50,89.96 L360.50,90.26 L361.50,90.55 L362.50,90.84 L363.50,91.14 L364.50,91.43 L365.50,91.73 L366.50,92.02 L367.50,92.32 L368.50,92.62 L369.50,92.91 L370.50,93.21 L371.50,93.51 L372.50,93.81 L373.50,94.10 L374.50,94.40 L375.50,94.70 L376.50,95.00 L377.50,95.30 L378.50,95.60 L379.50,95.90 L380.50,96.20 L381.50,96.50 L382.50,96.80 L383.50,97.10 L384.50,97.40 L385.50,97.70 L386.50,98.00 L387.50,98.30 L388.50,98.61 L389.50,98.91 L390.50,99.21 L391.50,99.51 L392.50,99.81 L393.50,100.11 L394.50,100.41 L395.50,100.71 L396.50,101.02 L397.50,101.32 L398.50,101.62 L399.50,101.92 L400.50,102.22 L401.50,102.52 L402.50,102.82 L403.50,103.13 L404.50,103.43 L405.50,103.73 L406.50,104.03 L407.50,104.33 L408.50,104.63 L409.50,104.93 L410.50,105.23 L411.50,105.53 L412.50,105.83 L413.50,106.13 L414.50,106.43 L415.50,106.73 L416.50,107.03 L417.50,107.33 L418.50,107.63 L419.50,107.93 L420.50,108.23 L421.50,108.53 L422.50,108.83 L423.50,109.12 L424.50,109.42 L425.50,109.72 L426.50,110.02 L427.50,110.31 L428.50,110.61 L429.50,110.91 L430.50,111.20 L431.50,111.50 L432.50,111.79 L433.50,112.09 L434.50,112.38 L435.50,112.68 L436.50,112.97 L437.50,113.26 L438.50,113.55 L439.50,113.85 L440.50,114.14 L441.50,114.43 L442.50,114.72 L443.50,115.01 L444.50,115.30 L445.50,115.59 L446.50,115.88 L447.50,116.17 L448.50,116.46 L449.50,116.75 L450.50,117.03 L451.50,117.32 L452.50,117.61 L453.50,117.90 L454.50,118.18 L455.50,118.47 L456.50,118.76 L457.50,119.04 L458.50,119.33 L459.50,119.61 L460.50,119.90 L461.50,120.18 L462.50,120.47 L463.50,120.75 L464.50,121.04 L465.50,121.32 L466.50,121.60 L467.50,121.89 L468.50,122.17 L469.50,122.46 L470.50,122.74 L471.50,123.02 L472.50,123.31 L473.50,123.59 L474.50,123.87 L475.50,124.16 L476.50,124.44 L477.50,124.72 L478.50,125.00 L479.50,125.29 L480.50,125.57 L481.50,125.85 L482.50,126.14 L483.50,126.42 L484.50,126.70 L485.50,126.98 L486.50,127.27 L487.50,127.55 L488.50,127.83 L489.50,128.11 L490.50,128.39 L491.50,128.67 L492.50,128.95 L493.50,129.23 L494.50,129.51 L495.50,129.79 L496.50,130.06 L497.50,130.34 L498.50,130.61 L499.50,130.89 L500.50,131.16 L501.50,131.43 L502.50,131.70 L503.50,131.98 L504.50,132.25 L505.50,132.52 L506.50,132.79 L507.50,133.06 L508.50,133.34 L509.50,133.62 L510.50,133.89 L511.50,134.18 L512.50,134.46 L513.50,134.74 L514.50,135.03 L515.50,135.32 L516.50,135.61 L517.50,135.90 L518.50,136.20 L519.50,136.50 L520.50,136.80 L521.50,137.10 L522.50,137.40 L523.50,137.71 L524.50,138.02 L525.50,138.33 L526.50,138.64 L527.50,138.96 L528.50,139.28 L529.50,139.60 L530.50,139.92 L531.50,140.25 L532.50,140.57 L533.50,140.90 L534.50,141.24 L535.50,141.57 L536.50,141.91 L537.50,142.25 L538.50,142.59 L539.50,142.93 L540.50,143.28 L541.50,143.63 L542.50,143.98 L543.50,144.34 L544.50,144.69 L545.50,145.05 L546.50,145.41 L547.50,145.78 L548.50,146.15 L549.50,146.52 L550.50,146.89 L551.50,147.26 L552.50,147.64 L553.50,148.02 L554.50,148.40 L555.50,148.79 L556.50,149.18 L557.50,149.57 L558.50,149.96 L559.50,150.36 L560.50,150.75 L561.50,151.16 L562.50,151.56 L563.50,151.97 L564.50,152.38 L565.50,152.79 L566.50,153.20 L567.50,153.62 L568.50,154.04 L569.50,154.47 L570.50,154.89 L571.50,155.32 L572.50,155.75 L573.50,156.18 L574.50,156.62 L575.50,157.05 L576.50,157.49 L577.50,157.93 L578.50,158.36 L579.50,158.80 L580.50,159.23 L581.50,159.66 L582.50,160.09 L583.50,160.52 L584.50,160.94 L585.50,161.36 L586.50,161.78 L587.50,162.20 L588.50,162.61 L589.50,163.02 L590.50,163.42 L591.50,163.83 L592.50,164.23 L593.50,164.63 L594.50,165.02 L595.50,165.42 L596.50,165.81 L597.50,166.20 L598.50,166.59 L599.50,166.98 L600.50,167.37 L601.50,167.75 L602.50,168.14 L603.50,168.52 L604.50,168.90 L605.50,169.29 L606.50,169.67 L607.50,170.05 L608.50,170.44 L609.50,170.82 L610.50,171.21 L611.50,171.59 L612.50,171.98 L613.50,172.37 L614.50,172.76 L615.50,173.16 L616.50,173.55 L617.50,173.95 L618.50,174.35 L619.50,174.76 L620.50,175.17 L621.50,175.58 L622.50,176.00 L623.50,176.42 L624.50,176.85 L625.50,177.28 L626.50,177.72 L627.50,178.17 L628.50,178.62 L629.50,179.07 L630.50,179.53 L631.50,180.00 L632.50,180.48 L633.50,180.96 L634.50,181.45 L635.50,181.95 L636.50,182.46 L637.50,182.98 L638.50,183.50 L639.50,184.03 L640.50,184.56 L641.50,185.11 L642.50,185.66 L643.50,186.21 L644.50,186.77 L645.50,187.34 L646.50,187.92 L647.50,188.49 L648.50,189.08 L649.50,189.66 L650.50,190.26 L651.50,190.85 L652.50,191.45 L653.50,192.06 L654.50,192.67 L655.50,193.28 L656.50,193.89 L657.50,194.51 L658.50,195.13 L659.50,195.75 L660.50,196.37 L661.50,197.00 L662.50,197.62 L663.50,198.25 L664.50,198.88 L665.50,199.51 L666.50,200.14 L666.60,200.20" fill="none" stroke="#c22e2c" stroke-width="1.4" stroke-linejoin="round"/>
<path d="M75.50,252.40 L76.50,252.41 L77.50,252.42 L78.50,252.43 L79.50,252.44 L80.50,252.45 L81.50,252.46 L82.50,252.47 L83.50,252.48 L84.50,252.49 L85.50,252.49 L86.50,252.50 L87.50,252.51 L88.50,252.51 L89.50,252.52 L90.50,252.52 L91.50,252.52 L92.50,252.53 L93.50,252.53 L94.50,252.53 L95.50,252.54 L96.50,252.54 L97.50,252.54 L98.50,252.54 L99.50,252.54 L100.50,252.54 L101.50,252.54 L102.50,252.54 L103.50,252.54 L104.50,252.54 L105.50,252.54 L106.50,252.54 L107.50,252.54 L108.50,252.54 L109.50,252.54 L110.50,252.54 L111.50,252.54 L112.50,252.54 L113.50,252.54 L114.50,252.54 L115.50,252.54 L116.50,252.54 L117.50,252.54 L118.50,252.54 L119.50,252.54 L120.50,252.54 L121.50,252.54 L122.50,252.54 L123.50,252.54 L124.50,252.54 L125.50,252.54 L126.50,252.54 L127.50,252.55 L128.50,252.55 L129.50,252.55 L130.50,252.55 L131.50,252.56 L132.50,252.56 L133.50,252.56 L134.50,252.57 L135.50,252.57 L136.50,252.58 L137.50,252.59 L138.50,252.59 L139.50,252.60 L140.50,252.61 L141.50,252.61 L142.50,252.62 L143.50,252.63 L144.50,252.64 L145.50,252.65 L146.50,252.67 L147.50,252.68 L148.50,252.69 L149.50,252.71 L150.50,252.72 L151.50,252.74 L152.50,252.75 L153.50,252.77 L154.50,252.79 L155.50,252.81 L156.50,252.83 L157.50,252.85 L158.50,252.87 L159.50,252.89 L160.50,252.91 L161.50,252.94 L162.50,252.96 L163.50,252.99 L164.50,253.02 L165.50,253.05 L166.50,253.08 L167.50,253.11 L168.50,253.14 L169.50,253.17 L170.50,253.21 L171.50,253.25 L172.50,253.28 L173.50,253.32 L174.50,253.36 L175.50,253.40 L176.50,253.44 L177.50,253.49 L178.50,253.53 L179.50,253.58 L180.50,253.63 L181.50,253.68 L182.50,253.73 L183.50,253.78 L184.50,253.84 L185.50,253.90 L186.50,253.95 L187.50,254.01 L188.50,254.08 L189.50,254.14 L190.50,254.21 L191.50,254.28 L192.50,254.35 L193.50,254.42 L194.50,254.50 L195.50,254.58 L196.50,254.66 L197.50,254.74 L198.50,254.83 L199.50,254.91 L200.50,255.00 L201.50,255.10 L202.50,255.19 L203.50,255.29 L204.50,255.40 L205.50,255.50 L206.50,255.61 L207.50,255.72 L208.50,255.83 L209.50,255.95 L210.50,256.07 L211.50,256.19 L212.50,256.32 L213.50,256.45 L214.50,256.58 L215.50,256.72 L216.50,256.86 L217.50,257.00 L218.50,257.15 L219.50,257.30 L220.50,257.46 L221.50,257.62 L222.50,257.78 L223.50,257.95 L224.50,258.12 L225.50,258.30 L226.50,258.48 L227.50,258.67 L228.50,258.87 L229.50,259.06 L230.50,259.27 L231.50,259.48 L232.50,259.69 L233.50,259.91 L234.50,260.14 L235.50,260.37 L236.50,260.61 L237.50,260.85 L238.50,261.11 L239.50,261.36 L240.50,261.63 L241.50,261.90 L242.50,262.18 L243.50,262.47 L244.50,262.76 L245.50,263.06 L246.50,263.37 L247.50,263.68 L248.50,264.01 L249.50,264.34 L250.50,264.68 L251.50,265.02 L252.50,265.38 L253.50,265.74 L254.50,266.12 L255.50,266.50 L256.50,266.89 L257.50,267.29 L258.50,267.69 L259.50,268.10 L260.50,268.52 L261.50,268.94 L262.50,269.37 L263.50,269.80 L264.50,270.23 L265.50,270.66 L266.50,271.10 L267.50,271.54 L268.50,271.97 L269.50,272.41 L270.50,272.84 L271.50,273.28 L272.50,273.71 L273.50,274.13 L274.50,274.55 L275.50,274.97 L276.50,275.38 L277.50,275.79 L278.50,276.20 L279.50,276.60 L280.50,277.00 L281.50,277.39 L282.50,277.79 L283.50,278.18 L284.50,278.57 L285.50,278.97 L286.50,279.36 L287.50,279.76 L288.50,280.15 L289.50,280.54 L290.50,280.94 L291.50,281.33 L292.50,281.72 L293.50,282.11 L294.50,282.50 L295.50,282.88 L296.50,283.27 L297.50,283.65 L298.50,284.03 L299.50,284.40 L300.50,284.77 L301.50,285.14 L302.50,285.51 L303.50,285.87 L304.50,286.23 L305.50,286.58 L306.50,286.93 L307.50,287.27 L308.50,287.61 L309.50,287.95 L310.50,288.27 L311.50,288.60 L312.50,288.91 L313.50,289.22 L314.50,289.53 L315.50,289.83 L316.50,290.12 L317.50,290.41 L318.50,290.69 L319.50,290.96 L320.50,291.22 L321.50,291.48 L322.50,291.73 L323.50,291.97 L324.50,292.21 L325.50,292.43 L326.50,292.65 L327.50,292.86 L328.50,293.06 L329.50,293.26 L330.50,293.45 L331.50,293.63 L332.50,293.80 L333.50,293.97 L334.50,294.13 L335.50,294.29 L336.50,294.44 L337.50,294.58 L338.50,294.72 L339.50,294.86 L340.50,294.98 L341.50,295.11 L342.50,295.23 L343.50,295.34 L344.50,295.45 L345.50,295.56 L346.50,295.66 L347.50,295.76 L348.50,295.86 L349.50,295.95 L350.50,296.04 L351.50,296.13 L352.50,296.21 L353.50,296.30 L354.50,296.38 L355.50,296.46 L356.50,296.54 L357.50,296.61 L358.50,296.69 L359.50,296.76 L360.50,296.83 L361.50,296.90 L362.50,296.97 L363.50,297.04 L364.50,297.10 L365.50,297.17 L366.50,297.23 L367.50,297.29 L368.50,297.35 L369.50,297.41 L370.50,297.47 L371.50,297.53 L372.50,297.58 L373.50,297.63 L374.50,297.69 L375.50,297.74 L376.50,297.79 L377.50,297.84 L378.50,297.89 L379.50,297.93 L380.50,297.98 L381.50,298.02 L382.50,298.07 L383.50,298.11 L384.50,298.15 L385.50,298.19 L386.50,298.23 L387.50,298.27 L388.50,298.31 L389.50,298.34 L390.50,298.38 L391.50,298.41 L392.50,298.45 L393.50,298.48 L394.50,298.51 L395.50,298.54 L396.50,298.58 L397.50,298.61 L398.50,298.64 L399.50,298.67 L400.50,298.69 L401.50,298.72 L402.50,298.75 L403.50,298.77 L404.50,298.80 L405.50,298.83 L406.50,298.85 L407.50,298.88 L408.50,298.90 L409.50,298.92 L410.50,298.95 L411.50,298.97 L412.50,298.99 L413.50,299.01 L414.50,299.03 L415.50,299.05 L416.50,299.08 L417.50,299.10 L418.50,299.12 L419.50,299.14 L420.50,299.16 L421.50,299.18 L422.50,299.19 L423.50,299.21 L424.50,299.23 L425.50,299.25 L426.50,299.27 L427.50,299.29 L428.50,299.31 L429.50,299.33 L430.50,299.35 L431.50,299.37 L432.50,299.38 L433.50,299.40 L434.50,299.42 L435.50,299.44 L436.50,299.46 L437.50,299.48 L438.50,299.50 L439.50,299.52 L440.50,299.54 L441.50,299.56 L442.50,299.58 L443.50,299.60 L444.50,299.62 L445.50,299.64 L446.50,299.67 L447.50,299.69 L448.50,299.71 L449.50,299.73 L450.50,299.76 L451.50,299.78 L452.50,299.81 L453.50,299.83 L454.50,299.86 L455.50,299.88 L456.50,299.91 L457.50,299.94 L458.50,299.97 L459.50,299.99 L460.50,300.02 L461.50,300.06 L462.50,300.09 L463.50,300.12 L464.50,300.16 L465.50,300.19 L466.50,300.23 L467.50,300.27 L468.50,300.31 L469.50,300.35 L470.50,300.39 L471.50,300.44 L472.50,300.48 L473.50,300.53 L474.50,300.58 L475.50,300.63 L476.50,300.68 L477.50,300.74 L478.50,300.80 L479.50,300.86 L480.50,300.92 L481.50,300.98 L482.50,301.05 L483.50,301.11 L484.50,301.19 L485.50,301.26 L486.50,301.33 L487.50,301.41 L488.50,301.49 L489.50,301.57 L490.50,301.66 L491.50,301.75 L492.50,301.84 L493.50,301.94 L494.50,302.03 L495.50,302.13 L496.50,302.24 L497.50,302.34 L498.50,302.45 L499.50,302.56 L500.50,302.68 L501.50,302.80 L502.50,302.92 L503.50,303.05 L504.50,303.18 L505.50,303.31 L506.50,303.45 L507.50,303.59 L508.50,303.74 L509.50,303.88 L510.50,304.03 L511.50,304.19 L512.50,304.35 L513.50,304.51 L514.50,304.67 L515.50,304.84 L516.50,305.01 L517.50,305.19 L518.50,305.37 L519.50,305.55 L520.50,305.73 L521.50,305.92 L522.50,306.11 L523.50,306.30 L524.50,306.50 L525.50,306.70 L526.50,306.90 L527.50,307.10 L528.50,307.31 L529.50,307.52 L530.50,307.74 L531.50,307.95 L532.50,308.17 L533.50,308.39 L534.50,308.62 L535.50,308.85 L536.50,309.08 L537.50,309.31 L538.50,309.54 L539.50,309.78 L540.50,310.02 L541.50,310.26 L542.50,310.50 L543.50,310.74 L544.50,310.98 L545.50,311.23 L546.50,311.47 L547.50,311.71 L548.50,311.96 L549.50,312.21 L550.50,312.45 L551.50,312.70 L552.50,312.94 L553.50,313.19 L554.50,313.43 L555.50,313.67 L556.50,313.91 L557.50,314.15 L558.50,314.39 L559.50,314.63 L560.50,314.86 L561.50,315.10 L562.50,315.33 L563.50,315.55 L564.50,315.78 L565.50,316.00 L566.50,316.22 L567.50,316.44 L568.50,316.65 L569.50,316.86 L570.50,317.07 L571.50,317.27 L572.50,317.47 L573.50,317.66 L574.50,317.85 L575.50,318.03 L576.50,318.22 L577.50,318.40 L578.50,318.57 L579.50,318.75 L580.50,318.92 L581.50,319.10 L582.50,319.27 L583.50,319.44 L584.50,319.62 L585.50,319.80 L586.50,319.98 L587.50,320.16 L588.50,320.34 L589.50,320.53 L590.50,320.73 L591.50,320.93 L592.50,321.13 L593.50,321.34 L594.50,321.56 L595.50,321.78 L596.50,322.02 L597.50,322.26 L598.50,322.51 L599.50,322.77 L600.50,323.04 L601.50,323.32 L602.50,323.61 L603.50,323.91 L604.50,324.23 L605.50,324.56 L606.50,324.90 L607.50,325.26 L608.50,325.63 L609.50,326.01 L610.50,326.41 L611.50,326.82 L612.50,327.24 L613.50,327.68 L614.50,328.13 L615.50,328.59 L616.50,329.07 L617.50,329.57 L618.50,330.08 L619.50,330.60 L620.50,331.13 L621.50,331.68 L622.50,332.25 L623.50,332.83 L624.50,333.43 L625.50,334.04 L626.50,334.66 L627.50,335.30 L628.50,335.95 L629.50,336.61 L630.50,337.29 L631.50,337.98 L632.50,338.68 L633.50,339.39 L634.50,340.11 L635.50,340.84 L636.50,341.58 L637.50,342.32 L638.50,343.08 L639.50,343.84 L640.50,344.61 L641.50,345.38 L642.50,346.16 L643.50,346.95 L644.50,347.73 L645.50,348.52 L646.50,349.32 L647.50,350.11 L648.50,350.90 L649.50,351.70 L650.50,352.49 L651.50,353.28 L652.50,354.06 L653.50,354.84 L654.50,355.62 L655.50,356.39 L656.50,357.16 L657.50,357.92 L658.50,358.68 L659.50,359.42 L660.50,360.17 L661.50,360.90 L662.50,361.63 L663.50,362.35 L664.50,363.07 L665.50,363.78 L666.50,364.48 L666.80,364.69" fill="none" stroke="rgba(235,75,60,0.22)" stroke-width="2.5" stroke-linejoin="round"/>
<path d="M75.50,252.40 L76.50,252.41 L77.50,252.42 L78.50,252.43 L79.50,252.44 L80.50,252.45 L81.50,252.46 L82.50,252.47 L83.50,252.48 L84.50,252.49 L85.50,252.49 L86.50,252.50 L87.50,252.51 L88.50,252.51 L89.50,252.52 L90.50,252.52 L91.50,252.52 L92.50,252.53 L93.50,252.53 L94.50,252.53 L95.50,252.54 L96.50,252.54 L97.50,252.54 L98.50,252.54 L99.50,252.54 L100.50,252.54 L101.50,252.54 L102.50,252.54 L103.50,252.54 L104.50,252.54 L105.50,252.54 L106.50,252.54 L107.50,252.54 L108.50,252.54 L109.50,252.54 L110.50,252.54 L111.50,252.54 L112.50,252.54 L113.50,252.54 L114.50,252.54 L115.50,252.54 L116.50,252.54 L117.50,252.54 L118.50,252.54 L119.50,252.54 L120.50,252.54 L121.50,252.54 L122.50,252.54 L123.50,252.54 L124.50,252.54 L125.50,252.54 L126.50,252.54 L127.50,252.55 L128.50,252.55 L129.50,252.55 L130.50,252.55 L131.50,252.56 L132.50,252.56 L133.50,252.56 L134.50,252.57 L135.50,252.57 L136.50,252.58 L137.50,252.59 L138.50,252.59 L139.50,252.60 L140.50,252.61 L141.50,252.61 L142.50,252.62 L143.50,252.63 L144.50,252.64 L145.50,252.65 L146.50,252.67 L147.50,252.68 L148.50,252.69 L149.50,252.71 L150.50,252.72 L151.50,252.74 L152.50,252.75 L153.50,252.77 L154.50,252.79 L155.50,252.81 L156.50,252.83 L157.50,252.85 L158.50,252.87 L159.50,252.89 L160.50,252.91 L161.50,252.94 L162.50,252.96 L163.50,252.99 L164.50,253.02 L165.50,253.05 L166.50,253.08 L167.50,253.11 L168.50,253.14 L169.50,253.17 L170.50,253.21 L171.50,253.25 L172.50,253.28 L173.50,253.32 L174.50,253.36 L175.50,253.40 L176.50,253.44 L177.50,253.49 L178.50,253.53 L179.50,253.58 L180.50,253.63 L181.50,253.68 L182.50,253.73 L183.50,253.78 L184.50,253.84 L185.50,253.90 L186.50,253.95 L187.50,254.01 L188.50,254.08 L189.50,254.14 L190.50,254.21 L191.50,254.28 L192.50,254.35 L193.50,254.42 L194.50,254.50 L195.50,254.58 L196.50,254.66 L197.50,254.74 L198.50,254.83 L199.50,254.91 L200.50,255.00 L201.50,255.10 L202.50,255.19 L203.50,255.29 L204.50,255.40 L205.50,255.50 L206.50,255.61 L207.50,255.72 L208.50,255.83 L209.50,255.95 L210.50,256.07 L211.50,256.19 L212.50,256.32 L213.50,256.45 L214.50,256.58 L215.50,256.72 L216.50,256.86 L217.50,257.00 L218.50,257.15 L219.50,257.30 L220.50,257.46 L221.50,257.62 L222.50,257.78 L223.50,257.95 L224.50,258.12 L225.50,258.30 L226.50,258.48 L227.50,258.67 L228.50,258.87 L229.50,259.06 L230.50,259.27 L231.50,259.48 L232.50,259.69 L233.50,259.91 L234.50,260.14 L235.50,260.37 L236.50,260.61 L237.50,260.85 L238.50,261.11 L239.50,261.36 L240.50,261.63 L241.50,261.90 L242.50,262.18 L243.50,262.47 L244.50,262.76 L245.50,263.06 L246.50,263.37 L247.50,263.68 L248.50,264.01 L249.50,264.34 L250.50,264.68 L251.50,265.02 L252.50,265.38 L253.50,265.74 L254.50,266.12 L255.50,266.50 L256.50,266.89 L257.50,267.29 L258.50,267.69 L259.50,268.10 L260.50,268.52 L261.50,268.94 L262.50,269.37 L263.50,269.80 L264.50,270.23 L265.50,270.66 L266.50,271.10 L267.50,271.54 L268.50,271.97 L269.50,272.41 L270.50,272.84 L271.50,273.28 L272.50,273.71 L273.50,274.13 L274.50,274.55 L275.50,274.97 L276.50,275.38 L277.50,275.79 L278.50,276.20 L279.50,276.60 L280.50,277.00 L281.50,277.39 L282.50,277.79 L283.50,278.18 L284.50,278.57 L285.50,278.97 L286.50,279.36 L287.50,279.76 L288.50,280.15 L289.50,280.54 L290.50,280.94 L291.50,281.33 L292.50,281.72 L293.50,282.11 L294.50,282.50 L295.50,282.88 L296.50,283.27 L297.50,283.65 L298.50,284.03 L299.50,284.40 L300.50,284.77 L301.50,285.14 L302.50,285.51 L303.50,285.87 L304.50,286.23 L305.50,286.58 L306.50,286.93 L307.50,287.27 L308.50,287.61 L309.50,287.95 L310.50,288.27 L311.50,288.60 L312.50,288.91 L313.50,289.22 L314.50,289.53 L315.50,289.83 L316.50,290.12 L317.50,290.41 L318.50,290.69 L319.50,290.96 L320.50,291.22 L321.50,291.48 L322.50,291.73 L323.50,291.97 L324.50,292.21 L325.50,292.43 L326.50,292.65 L327.50,292.86 L328.50,293.06 L329.50,293.26 L330.50,293.45 L331.50,293.63 L332.50,293.80 L333.50,293.97 L334.50,294.13 L335.50,294.29 L336.50,294.44 L337.50,294.58 L338.50,294.72 L339.50,294.86 L340.50,294.98 L341.50,295.11 L342.50,295.23 L343.50,295.34 L344.50,295.45 L345.50,295.56 L346.50,295.66 L347.50,295.76 L348.50,295.86 L349.50,295.95 L350.50,296.04 L351.50,296.13 L352.50,296.21 L353.50,296.30 L354.50,296.38 L355.50,296.46 L356.50,296.54 L357.50,296.61 L358.50,296.69 L359.50,296.76 L360.50,296.83 L361.50,296.90 L362.50,296.97 L363.50,297.04 L364.50,297.10 L365.50,297.17 L366.50,297.23 L367.50,297.29 L368.50,297.35 L369.50,297.41 L370.50,297.47 L371.50,297.53 L372.50,297.58 L373.50,297.63 L374.50,297.69 L375.50,297.74 L376.50,297.79 L377.50,297.84 L378.50,297.89 L379.50,297.93 L380.50,297.98 L381.50,298.02 L382.50,298.07 L383.50,298.11 L384.50,298.15 L385.50,298.19 L386.50,298.23 L387.50,298.27 L388.50,298.31 L389.50,298.34 L390.50,298.38 L391.50,298.41 L392.50,298.45 L393.50,298.48 L394.50,298.51 L395.50,298.54 L396.50,298.58 L397.50,298.61 L398.50,298.64 L399.50,298.67 L400.50,298.69 L401.50,298.72 L402.50,298.75 L403.50,298.77 L404.50,298.80 L405.50,298.83 L406.50,298.85 L407.50,298.88 L408.50,298.90 L409.50,298.92 L410.50,298.95 L411.50,298.97 L412.50,298.99 L413.50,299.01 L414.50,299.03 L415.50,299.05 L416.50,299.08 L417.50,299.10 L418.50,299.12 L419.50,299.14 L420.50,299.16 L421.50,299.18 L422.50,299.19 L423.50,299.21 L424.50,299.23 L425.50,299.25 L426.50,299.27 L427.50,299.29 L428.50,299.31 L429.50,299.33 L430.50,299.35 L431.50,299.37 L432.50,299.38 L433.50,299.40 L434.50,299.42 L435.50,299.44 L436.50,299.46 L437.50,299.48 L438.50,299.50 L439.50,299.52 L440.50,299.54 L441.50,299.56 L442.50,299.58 L443.50,299.60 L444.50,299.62 L445.50,299.64 L446.50,299.67 L447.50,299.69 L448.50,299.71 L449.50,299.73 L450.50,299.76 L451.50,299.78 L452.50,299.81 L453.50,299.83 L454.50,299.86 L455.50,299.88 L456.50,299.91 L457.50,299.94 L458.50,299.97 L459.50,299.99 L460.50,300.02 L461.50,300.06 L462.50,300.09 L463.50,300.12 L464.50,300.16 L465.50,300.19 L466.50,300.23 L467.50,300.27 L468.50,300.31 L469.50,300.35 L470.50,300.39 L471.50,300.44 L472.50,300.48 L473.50,300.53 L474.50,300.58 L475.50,300.63 L476.50,300.68 L477.50,300.74 L478.50,300.80 L479.50,300.86 L480.50,300.92 L481.50,300.98 L482.50,301.05 L483.50,301.11 L484.50,301.19 L485.50,301.26 L486.50,301.33 L487.50,301.41 L488.50,301.49 L489.50,301.57 L490.50,301.66 L491.50,301.75 L492.50,301.84 L493.50,301.94 L494.50,302.03 L495.50,302.13 L496.50,302.24 L497.50,302.34 L498.50,302.45 L499.50,302.56 L500.50,302.68 L501.50,302.80 L502.50,302.92 L503.50,303.05 L504.50,303.18 L505.50,303.31 L506.50,303.45 L507.50,303.59 L508.50,303.74 L509.50,303.88 L510.50,304.03 L511.50,304.19 L512.50,304.35 L513.50,304.51 L514.50,304.67 L515.50,304.84 L516.50,305.01 L517.50,305.19 L518.50,305.37 L519.50,305.55 L520.50,305.73 L521.50,305.92 L522.50,306.11 L523.50,306.30 L524.50,306.50 L525.50,306.70 L526.50,306.90 L527.50,307.10 L528.50,307.31 L529.50,307.52 L530.50,307.74 L531.50,307.95 L532.50,308.17 L533.50,308.39 L534.50,308.62 L535.50,308.85 L536.50,309.08 L537.50,309.31 L538.50,309.54 L539.50,309.78 L540.50,310.02 L541.50,310.26 L542.50,310.50 L543.50,310.74 L544.50,310.98 L545.50,311.23 L546.50,311.47 L547.50,311.71 L548.50,311.96 L549.50,312.21 L550.50,312.45 L551.50,312.70 L552.50,312.94 L553.50,313.19 L554.50,313.43 L555.50,313.67 L556.50,313.91 L557.50,314.15 L558.50,314.39 L559.50,314.63 L560.50,314.86 L561.50,315.10 L562.50,315.33 L563.50,315.55 L564.50,315.78 L565.50,316.00 L566.50,316.22 L567.50,316.44 L568.50,316.65 L569.50,316.86 L570.50,317.07 L571.50,317.27 L572.50,317.47 L573.50,317.66 L574.50,317.85 L575.50,318.03 L576.50,318.22 L577.50,318.40 L578.50,318.57 L579.50,318.75 L580.50,318.92 L581.50,319.10 L582.50,319.27 L583.50,319.44 L584.50,319.62 L585.50,319.80 L586.50,319.98 L587.50,320.16 L588.50,320.34 L589.50,320.53 L590.50,320.73 L591.50,320.93 L592.50,321.13 L593.50,321.34 L594.50,321.56 L595.50,321.78 L596.50,322.02 L597.50,322.26 L598.50,322.51 L599.50,322.77 L600.50,323.04 L601.50,323.32 L602.50,323.61 L603.50,323.91 L604.50,324.23 L605.50,324.56 L606.50,324.90 L607.50,325.26 L608.50,325.63 L609.50,326.01 L610.50,326.41 L611.50,326.82 L612.50,327.24 L613.50,327.68 L614.50,328.13 L615.50,328.59 L616.50,329.07 L617.50,329.57 L618.50,330.08 L619.50,330.60 L620.50,331.13 L621.50,331.68 L622.50,332.25 L623.50,332.83 L624.50,333.43 L625.50,334.04 L626.50,334.66 L627.50,335.30 L628.50,335.95 L629.50,336.61 L630.50,337.29 L631.50,337.98 L632.50,338.68 L633.50,339.39 L634.50,340.11 L635.50,340.84 L636.50,341.58 L637.50,342.32 L638.50,343.08 L639.50,343.84 L640.50,344.61 L641.50,345.38 L642.50,346.16 L643.50,346.95 L644.50,347.73 L645.50,348.52 L646.50,349.32 L647.50,350.11 L648.50,350.90 L649.50,351.70 L650.50,352.49 L651.50,353.28 L652.50,354.06 L653.50,354.84 L654.50,355.62 L655.50,356.39 L656.50,357.16 L657.50,357.92 L658.50,358.68 L659.50,359.42 L660.50,360.17 L661.50,360.90 L662.50,361.63 L663.50,362.35 L664.50,363.07 L665.50,363.78 L666.50,364.48 L666.80,364.69" fill="none" stroke="#c22e2c" stroke-width="1.4" stroke-linejoin="round"/>
<line x1="160.80" y1="66.80" x2="167.20" y2="66.80" stroke="#d41c1c" stroke-width="2.8"/>
<rect x="162.70" y="250.54" width="2.6" height="5" fill="#d41c1c"/>
<line x1="257.10" y1="67.72" x2="263.50" y2="68.39" stroke="#d41c1c" stroke-width="2.8"/>
<rect x="259.00" y="266.14" width="2.6" height="5" fill="#d41c1c"/>
<line x1="353.20" y1="87.98" x2="359.60" y2="89.83" stroke="#d41c1c" stroke-width="2.8"/>
<rect x="355.10" y="294.08" width="2.6" height="5" fill="#d41c1c"/>
<line x1="449.40" y1="116.54" x2="455.80" y2="118.38" stroke="#d41c1c" stroke-width="2.8"/>
<rect x="451.30" y="297.42" width="2.6" height="5" fill="#d41c1c"/>
<line x1="545.40" y1="144.89" x2="551.80" y2="147.24" stroke="#d41c1c" stroke-width="2.8"/>
<rect x="547.30" y="309.34" width="2.6" height="5" fill="#d41c1c"/>
<line x1="642.6" y1="186.2" x2="647.8" y2="188.3" stroke="#d41c1c" stroke-width="2.8"/>
<rect x="643.6" y="346.8" width="2.8" height="3.5" fill="#d41c1c"/>
<rect x="328.00" y="85.00" width="1.4" height="1.4" fill="#555"/>
<rect x="457.60" y="114.00" width="1.4" height="1.4" fill="#555"/>
<rect x="570.70" y="148.10" width="1.4" height="1.4" fill="#555"/>
<rect x="582.90" y="164.30" width="1.4" height="1.4" fill="#555"/>
<rect x="599.30" y="159.30" width="1.4" height="1.4" fill="#555"/>
<rect x="622.60" y="181.00" width="1.4" height="1.4" fill="#555"/>
<rect x="638.60" y="176.20" width="1.4" height="1.4" fill="#555"/>
<rect x="654.30" y="190.40" width="1.4" height="1.4" fill="#555"/>
<rect x="197.20" y="249.70" width="1.4" height="1.4" fill="#555"/>
<rect x="237.60" y="266.00" width="1.4" height="1.4" fill="#555"/>
<rect x="282.90" y="282.90" width="1.4" height="1.4" fill="#555"/>
<rect x="316.70" y="294.30" width="1.4" height="1.4" fill="#555"/>
<rect x="526.50" y="311.10" width="1.4" height="1.4" fill="#555"/>
<rect x="532.00" y="311.10" width="1.4" height="1.4" fill="#555"/>
<rect x="570.70" y="311.80" width="1.4" height="1.4" fill="#555"/>
<rect x="599.20" y="317.50" width="1.4" height="1.4" fill="#555"/>
<rect x="605.10" y="317.50" width="1.4" height="1.4" fill="#555"/>
<rect x="663.60" y="348.50" width="1.4" height="1.4" fill="#555"/>
<rect x="663.00" y="358.00" width="1.4" height="1.4" fill="#555"/>
<rect x="100.80" y="227.60" width="1.4" height="1.4" fill="#555"/>
<line x1="636.30" y1="156.50" x2="658.80" y2="156.50" stroke="#000" stroke-width="2.6" />
<line x1="636.30" y1="185.80" x2="658.80" y2="185.80" stroke="#000" stroke-width="2.6" />
<line x1="652.00" y1="162.50" x2="652.00" y2="179.80" stroke="#000" stroke-width="2.4" />
<path d="M652.0,157.3 L647.9,164.7 L656.1,164.7 Z" fill="#000"/>
<path d="M652.0,185.0 L647.9,177.60000000000002 L656.1,177.60000000000002 Z" fill="#000"/>
<line x1="568.20" y1="317.90" x2="590.20" y2="317.90" stroke="#000" stroke-width="2.6" />
<line x1="568.20" y1="346.60" x2="590.20" y2="346.60" stroke="#000" stroke-width="2.6" />
<line x1="583.60" y1="323.90" x2="583.60" y2="340.60" stroke="#000" stroke-width="2.4" />
<path d="M583.6,318.7 L579.5,326.09999999999997 L587.7,326.09999999999997 Z" fill="#000"/>
<path d="M583.6,345.8 L579.5,338.40000000000003 L587.7,338.40000000000003 Z" fill="#000"/>
<line x1="538.80" y1="172.80" x2="564.50" y2="162.00" stroke="#000" stroke-width="2.5" stroke-linecap="round"/>
<path d="M570.2,159.8 L560.6,159.0 L564.9,167.3 Z" fill="#000"/>
<text x="286.80 294.17 302.15 305.24 313.22 319.38 324.92 331.07 337.23 343.38 348.92" y="20.5" font-family="Liberation Sans" font-size="11" fill="#000" stroke="#000" stroke-width="0.35" transform="scale(1.1,1)" xml:space="preserve">AC Response</text>
<rect x="78.3" y="40.9" width="5.6" height="2.6" fill="#d02a26"/>
<rect x="86.3" y="38.8" width="1.7" height="1.7" fill="#d02a26"/><rect x="86.3" y="43.6" width="1.7" height="1.7" fill="#d02a26"/>
<text x="85.15 91.69 99.35 105.89 112.44 116.76 124.41 131.50 135.82 140.35 144.12 150.66 157.21 160.97 167.52 174.07 180.61 185.15 189.46" y="45.4" font-family="Liberation Sans" font-size="10" fill="#d02a26" stroke="#d02a26" stroke-width="0.3" transform="scale(1.15,1)" xml:space="preserve">dB20(VF(&quot;/net077&quot;))</text>
<line x1="122.92" y1="44.50" x2="127.03" y2="39.14" stroke="#d02a26" stroke-width="0.9"/>
<line x1="186.26" y1="44.50" x2="190.38" y2="39.14" stroke="#d02a26" stroke-width="0.9"/>
<rect x="80.1" y="232.9" width="2.4" height="4.5" fill="#d02a26"/>
<rect x="86.5" y="230.8" width="1.7" height="1.7" fill="#d02a26"/><rect x="86.5" y="235.6" width="1.7" height="1.7" fill="#d02a26"/>
<text x="84.92 91.27 97.62 103.96 109.75 116.10 120.21 127.67 134.56 138.68 143.02 146.58 152.93 159.27 162.84 169.19 175.53 181.88 186.22 190.33" y="237.4" font-family="Liberation Sans" font-size="10" fill="#d02a26" stroke="#d02a26" stroke-width="0.3" transform="scale(1.15,1)" xml:space="preserve">phase(VF(&quot;/net077&quot;))</text>
<line x1="188.40" y1="236.50" x2="192.52" y2="231.14" stroke="#d02a26" stroke-width="0.9"/>
<text x="31.22 37.45 43.69" y="49.7" font-family="Liberation Sans" font-size="11" fill="#000" stroke="#000" stroke-width="0.25" transform="scale(1.12,1)" xml:space="preserve"> 00</text>
<path d="M515,0 L515,1237 L197,1010 L197,1180 L530,1409 L696,1409 L696,0 Z" fill="#000" stroke="#000" stroke-width="0.25" vector-effect="non-scaling-stroke" transform="translate(34.96,49.7) scale(0.00602,-0.00537)"/>
<line x1="43.10" y1="48.80" x2="47.64" y2="42.72" stroke="#000" stroke-width="0.9"/>
<line x1="50.08" y1="48.80" x2="54.63" y2="42.72" stroke="#000" stroke-width="0.9"/>
<text x="31.04 37.35 43.66 46.90" y="81.1" font-family="Liberation Sans" font-size="11" fill="#000" stroke="#000" stroke-width="0.25" transform="scale(1.12,1)" xml:space="preserve">70.0</text>
<line x1="42.98" y1="80.20" x2="47.53" y2="74.12" stroke="#000" stroke-width="0.9"/>
<line x1="53.68" y1="80.20" x2="58.23" y2="74.12" stroke="#000" stroke-width="0.9"/>
<text x="30.82 37.32 43.82 47.26" y="114.3" font-family="Liberation Sans" font-size="11" fill="#000" stroke="#000" stroke-width="0.25" transform="scale(1.12,1)" xml:space="preserve">40.0</text>
<line x1="42.95" y1="113.40" x2="47.50" y2="107.32" stroke="#000" stroke-width="0.9"/>
<line x1="54.08" y1="113.40" x2="58.63" y2="107.32" stroke="#000" stroke-width="0.9"/>
<text x="31.22 37.46 43.71 46.90" y="146.0" font-family="Liberation Sans" font-size="11" fill="#000" stroke="#000" stroke-width="0.25" transform="scale(1.12,1)" xml:space="preserve"> 0.0</text>
<path d="M515,0 L515,1237 L197,1010 L197,1180 L530,1409 L696,1409 L696,0 Z" fill="#000" stroke="#000" stroke-width="0.25" vector-effect="non-scaling-stroke" transform="translate(34.96,146.0) scale(0.00602,-0.00537)"/>
<line x1="43.11" y1="145.10" x2="47.66" y2="139.02" stroke="#000" stroke-width="0.9"/>
<line x1="53.68" y1="145.10" x2="58.23" y2="139.02" stroke="#000" stroke-width="0.9"/>
<rect x="26.00" y="174.60" width="7.0" height="1.3" fill="#000"/>
<text x="31.05 37.92 44.79 48.60" y="179.0" font-family="Liberation Sans" font-size="11" fill="#000" stroke="#000" stroke-width="0.25" transform="scale(1.12,1)" xml:space="preserve">20.0</text>
<line x1="43.63" y1="178.10" x2="48.17" y2="172.02" stroke="#000" stroke-width="0.9"/>
<line x1="55.58" y1="178.10" x2="60.13" y2="172.02" stroke="#000" stroke-width="0.9"/>
<rect x="26.00" y="206.00" width="7.0" height="1.3" fill="#000"/>
<text x="31.17 38.00 44.83 48.60" y="210.4" font-family="Liberation Sans" font-size="11" fill="#000" stroke="#000" stroke-width="0.25" transform="scale(1.12,1)" xml:space="preserve">50.0</text>
<line x1="43.71" y1="209.50" x2="48.26" y2="203.42" stroke="#000" stroke-width="0.9"/>
<line x1="55.58" y1="209.50" x2="60.13" y2="203.42" stroke="#000" stroke-width="0.9"/>
<text x="30.34 37.59 44.85" y="242.6" font-family="Liberation Sans" font-size="11" fill="#000" stroke="#000" stroke-width="0.25" transform="scale(1.12,1)" xml:space="preserve">200</text>
<line x1="43.26" y1="241.70" x2="47.80" y2="235.62" stroke="#000" stroke-width="0.9"/>
<line x1="51.38" y1="241.70" x2="55.93" y2="235.62" stroke="#000" stroke-width="0.9"/>
<text x="31.39 37.67 43.95" y="294.8" font-family="Liberation Sans" font-size="11" fill="#000" stroke="#000" stroke-width="0.25" transform="scale(1.12,1)" xml:space="preserve"> 00</text>
<path d="M515,0 L515,1237 L197,1010 L197,1180 L530,1409 L696,1409 L696,0 Z" fill="#000" stroke="#000" stroke-width="0.25" vector-effect="non-scaling-stroke" transform="translate(35.16,294.8) scale(0.00602,-0.00537)"/>
<line x1="43.35" y1="293.90" x2="47.89" y2="287.82" stroke="#000" stroke-width="0.9"/>
<line x1="50.38" y1="293.90" x2="54.93" y2="287.82" stroke="#000" stroke-width="0.9"/>
<text x="30.46 37.05 40.58 47.17" y="346.2" font-family="Liberation Sans" font-size="11" fill="#000" stroke="#000" stroke-width="0.25" transform="scale(1.12,1)" xml:space="preserve">0.00</text>
<line x1="35.27" y1="345.30" x2="39.82" y2="339.22" stroke="#000" stroke-width="0.9"/>
<line x1="46.60" y1="345.30" x2="51.15" y2="339.22" stroke="#000" stroke-width="0.9"/>
<line x1="53.98" y1="345.30" x2="58.53" y2="339.22" stroke="#000" stroke-width="0.9"/>
<rect x="24.20" y="394.40" width="7.0" height="1.3" fill="#000"/>
<text x="29.16 36.78 44.40" y="398.8" font-family="Liberation Sans" font-size="11" fill="#000" stroke="#000" stroke-width="0.25" transform="scale(1.12,1)" xml:space="preserve"> 00</text>
<path d="M515,0 L515,1237 L197,1010 L197,1180 L530,1409 L696,1409 L696,0 Z" fill="#000" stroke="#000" stroke-width="0.25" vector-effect="non-scaling-stroke" transform="translate(32.66,398.8) scale(0.00602,-0.00537)"/>
<line x1="42.35" y1="397.90" x2="46.89" y2="391.82" stroke="#000" stroke-width="0.9"/>
<line x1="50.88" y1="397.90" x2="55.43" y2="391.82" stroke="#000" stroke-width="0.9"/>
<text x="61.66" y="410.0" font-family="Liberation Sans" font-size="11" fill="#000" stroke="#000" stroke-width="0.25" transform="scale(1.12,1)" xml:space="preserve"> </text>
<path d="M515,0 L515,1237 L197,1010 L197,1180 L530,1409 L696,1409 L696,0 Z" fill="#000" stroke="#000" stroke-width="0.25" vector-effect="non-scaling-stroke" transform="translate(69.06,410.0) scale(0.00602,-0.00537)"/>
<text x="128.00 133.60" y="410.0" font-family="Liberation Sans" font-size="11" fill="#000" stroke="#000" stroke-width="0.25" transform="scale(1.12,1)" xml:space="preserve"> 0</text>
<path d="M515,0 L515,1237 L197,1010 L197,1180 L530,1409 L696,1409 L696,0 Z" fill="#000" stroke="#000" stroke-width="0.25" vector-effect="non-scaling-stroke" transform="translate(143.36,410.0) scale(0.00602,-0.00537)"/>
<line x1="150.78" y1="409.10" x2="155.33" y2="403.02" stroke="#000" stroke-width="0.9"/>
<text x="194.07 199.95 205.83" y="410.0" font-family="Liberation Sans" font-size="11" fill="#000" stroke="#000" stroke-width="0.25" transform="scale(1.12,1)" xml:space="preserve"> 00</text>
<path d="M515,0 L515,1237 L197,1010 L197,1180 L530,1409 L696,1409 L696,0 Z" fill="#000" stroke="#000" stroke-width="0.25" vector-effect="non-scaling-stroke" transform="translate(217.36,410.0) scale(0.00602,-0.00537)"/>
<line x1="225.10" y1="409.10" x2="229.64" y2="403.02" stroke="#000" stroke-width="0.9"/>
<line x1="231.68" y1="409.10" x2="236.23" y2="403.02" stroke="#000" stroke-width="0.9"/>
<text x="260.41 264.22" y="410.0" font-family="Liberation Sans" font-size="11" fill="#000" stroke="#000" stroke-width="0.25" transform="scale(1.12,1)" xml:space="preserve"> K</text>
<path d="M515,0 L515,1237 L197,1010 L197,1180 L530,1409 L696,1409 L696,0 Z" fill="#000" stroke="#000" stroke-width="0.25" vector-effect="non-scaling-stroke" transform="translate(291.66,410.0) scale(0.00602,-0.00537)"/>
<text x="326.30 331.73 337.16" y="410.0" font-family="Liberation Sans" font-size="11" fill="#000" stroke="#000" stroke-width="0.25" transform="scale(1.12,1)" xml:space="preserve"> 0K</text>
<path d="M515,0 L515,1237 L197,1010 L197,1180 L530,1409 L696,1409 L696,0 Z" fill="#000" stroke="#000" stroke-width="0.25" vector-effect="non-scaling-stroke" transform="translate(365.46,410.0) scale(0.00602,-0.00537)"/>
<line x1="372.69" y1="409.10" x2="377.24" y2="403.02" stroke="#000" stroke-width="0.9"/>
<text x="392.02 397.75 403.48 409.22" y="410.0" font-family="Liberation Sans" font-size="11" fill="#000" stroke="#000" stroke-width="0.25" transform="scale(1.12,1)" xml:space="preserve"> 00K</text>
<path d="M515,0 L515,1237 L197,1010 L197,1180 L530,1409 L696,1409 L696,0 Z" fill="#000" stroke="#000" stroke-width="0.25" vector-effect="non-scaling-stroke" transform="translate(439.06,410.0) scale(0.00602,-0.00537)"/>
<line x1="446.63" y1="409.10" x2="451.18" y2="403.02" stroke="#000" stroke-width="0.9"/>
<line x1="453.05" y1="409.10" x2="457.60" y2="403.02" stroke="#000" stroke-width="0.9"/>
<text x="457.73 462.36" y="410.0" font-family="Liberation Sans" font-size="11" fill="#000" stroke="#000" stroke-width="0.25" transform="scale(1.12,1)" xml:space="preserve"> M</text>
<path d="M515,0 L515,1237 L197,1010 L197,1180 L530,1409 L696,1409 L696,0 Z" fill="#000" stroke="#000" stroke-width="0.25" vector-effect="non-scaling-stroke" transform="translate(512.66,410.0) scale(0.00602,-0.00537)"/>
<text x="524.34 529.60 534.86" y="410.0" font-family="Liberation Sans" font-size="11" fill="#000" stroke="#000" stroke-width="0.25" transform="scale(1.12,1)" xml:space="preserve"> 0M</text>
<path d="M515,0 L515,1237 L197,1010 L197,1180 L530,1409 L696,1409 L696,0 Z" fill="#000" stroke="#000" stroke-width="0.25" vector-effect="non-scaling-stroke" transform="translate(587.26,410.0) scale(0.00602,-0.00537)"/>
<line x1="594.31" y1="409.10" x2="598.85" y2="403.02" stroke="#000" stroke-width="0.9"/>
<text x="591.30 596.75 602.19 607.63" y="410.0" font-family="Liberation Sans" font-size="11" fill="#000" stroke="#000" stroke-width="0.25" transform="scale(1.12,1)" xml:space="preserve"> 00M</text>
<path d="M515,0 L515,1237 L197,1010 L197,1180 L530,1409 L696,1409 L696,0 Z" fill="#000" stroke="#000" stroke-width="0.25" vector-effect="non-scaling-stroke" transform="translate(662.26,410.0) scale(0.00602,-0.00537)"/>
<line x1="669.51" y1="409.10" x2="674.06" y2="403.02" stroke="#000" stroke-width="0.9"/>
<line x1="675.61" y1="409.10" x2="680.15" y2="403.02" stroke="#000" stroke-width="0.9"/>
<text x="326.42 329.96 334.10 340.70 347.31 353.91 360.51 367.11 373.09" y="421.8" font-family="Liberation Sans" font-size="11" fill="#000" stroke="#000" stroke-width="0.3" transform="scale(1.05,1)" xml:space="preserve">frequency</text>
<text transform="translate(19.3,145.8) rotate(-90)" font-family="Liberation Sans" font-size="14.2" text-anchor="middle" fill="#000" stroke="#000" stroke-width="0.35">(</text>
<text transform="translate(19.6,133.9) rotate(-90)" font-family="Liberation Sans" font-size="11" text-anchor="middle" fill="#000" stroke="#000" stroke-width="0.35">d</text>
<text transform="translate(19.6,126.8) rotate(-90)" font-family="Liberation Sans" font-size="11" text-anchor="middle" fill="#000" stroke="#000" stroke-width="0.35">B</text>
<text transform="translate(19.3,114.1) rotate(-90)" font-family="Liberation Sans" font-size="14.2" text-anchor="middle" fill="#000" stroke="#000" stroke-width="0.35">)</text>
<text transform="translate(19.3,338.7) rotate(-90)" font-family="Liberation Sans" font-size="14.2" text-anchor="middle" fill="#000" stroke="#000" stroke-width="0.35">(</text>
<text transform="translate(19.6,327.0) rotate(-90)" font-family="Liberation Sans" font-size="11" text-anchor="middle" fill="#000" stroke="#000" stroke-width="0.35">d</text>
<text transform="translate(19.6,320.0) rotate(-90)" font-family="Liberation Sans" font-size="11" text-anchor="middle" fill="#000" stroke="#000" stroke-width="0.35">e</text>
<text transform="translate(19.6,313.9) rotate(-90)" font-family="Liberation Sans" font-size="11" text-anchor="middle" fill="#000" stroke="#000" stroke-width="0.35">g</text>
<text transform="translate(19.3,301.4) rotate(-90)" font-family="Liberation Sans" font-size="14.2" text-anchor="middle" fill="#000" stroke="#000" stroke-width="0.35">)</text>
<text x="701.03" y="155.9" font-family="Liberation Sans" font-size="11.4" fill="#2d2d96" stroke="#2d2d96" stroke-width="0.5" transform="scale(0.8201948169392613,1)" xml:space="preserve">A</text>
<text x="639.09" y="345.5" font-family="Liberation Sans" font-size="11.2" fill="#2d2d96" stroke="#2d2d96" stroke-width="0.5" transform="scale(1.0065530799475755,1)" xml:space="preserve">B</text>
<line x1="7.30" y1="429.80" x2="692.00" y2="429.80" stroke="#333" stroke-width="1.5" />
<text x="6.94 13.15 15.86 18.57 21.78 27.00 29.71 34.92 40.14 45.35 50.57 55.78 63.49 66.20 71.41 76.63 79.34 84.56 89.77 94.99 100.20 107.91" y="437.5" font-family="Liberation Sans" font-size="9" fill="#000" stroke="#000" stroke-width="0.35" transform="scale(1.15,1)" xml:space="preserve">A: (5.4639 M 77.63 5m)</text>
<path d="M515,0 L515,1237 L197,1010 L197,1180 L530,1409 L696,1409 L696,0 Z" fill="#000" stroke="#000" stroke-width="0.35" vector-effect="non-scaling-stroke" transform="translate(58.15,437.5) scale(0.00505,-0.00439)"/>
<path d="M515,0 L515,1237 L197,1010 L197,1180 L530,1409 L696,1409 L696,0 Z" fill="#000" stroke="#000" stroke-width="0.35" vector-effect="non-scaling-stroke" transform="translate(103.24,437.5) scale(0.00505,-0.00439)"/>
<text x="7.09 13.48 16.38 19.27 22.66 28.06 33.46 36.35 41.75 47.15 52.55 57.95 65.84 68.73 74.38 79.78 85.18 90.58 93.47 98.87 104.27 109.67 117.56" y="447.0" font-family="Liberation Sans" font-size="9" fill="#000" stroke="#000" stroke-width="0.35" transform="scale(1.15,1)" xml:space="preserve">B: (45.8228M −370.454m)</text>
<text x="133.62 139.04 144.46 146.87 149.78 155.20 158.11 161.02 164.43 169.84 175.26 178.17 183.59 189.01 194.42 199.84 207.75 210.66 216.33 221.74 227.16 232.58 235.49 240.91 246.32 251.74 259.65" y="437.5" font-family="Liberation Sans" font-size="9" fill="#000" stroke="#000" stroke-width="0.35" transform="scale(1.15,1)" xml:space="preserve">delta: (40.3589M −448.086m)</text>
<text x="133.75 138.41 140.57 145.73 150.90 156.06 158.72 161.38 166.80 171.96 177.13 179.79 184.95 190.12 195.28 200.45" y="447.0" font-family="Liberation Sans" font-size="9" fill="#000" stroke="#000" stroke-width="0.35" transform="scale(1.15,1)" xml:space="preserve">slope: −  . 025n</text>
<path d="M515,0 L515,1237 L197,1010 L197,1180 L530,1409 L696,1409 L696,0 Z" fill="#000" stroke="#000" stroke-width="0.35" vector-effect="non-scaling-stroke" transform="translate(191.82,447.0) scale(0.00505,-0.00439)"/>
<path d="M515,0 L515,1237 L197,1010 L197,1180 L530,1409 L696,1409 L696,0 Z" fill="#000" stroke="#000" stroke-width="0.35" vector-effect="non-scaling-stroke" transform="translate(197.76,447.0) scale(0.00505,-0.00439)"/>
<path d="M515,0 L515,1237 L197,1010 L197,1180 L530,1409 L696,1409 L696,0 Z" fill="#000" stroke="#000" stroke-width="0.35" vector-effect="non-scaling-stroke" transform="translate(206.76,447.0) scale(0.00505,-0.00439)"/></svg>
</body></html>
